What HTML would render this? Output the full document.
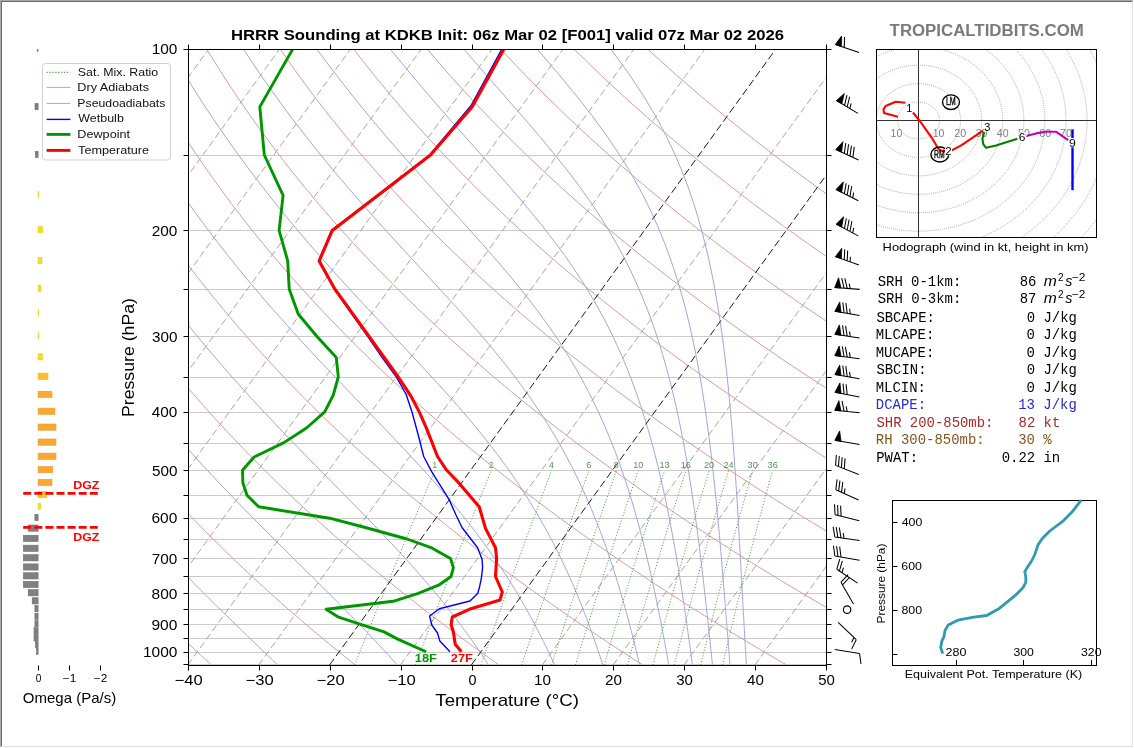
<!DOCTYPE html>
<html><head><meta charset="utf-8"><title>HRRR Sounding KDKB</title>
<style>
html,body{margin:0;padding:0;background:#fff;}
body{width:1134px;height:748px;overflow:hidden;}
svg{display:block;font-family:"Liberation Sans",sans-serif;}
</style></head><body>
<div style="will-change:transform;width:1134px;height:748px"><svg width="1134" height="748" viewBox="0 0 1134 748">
<rect x="0" y="0" width="1134" height="748" fill="#fff"/>
<defs><clipPath id="ax"><rect x="188.5" y="49.5" width="638" height="616"/></clipPath><clipPath id="hodo"><rect x="876.5" y="49.5" width="220" height="188"/></clipPath></defs>
<g clip-path="url(#ax)">
<line x1="188" x2="827" y1="49.5" y2="49.5" stroke="#cbcbcb" stroke-width="1"/>
<line x1="188" x2="827" y1="155.5" y2="155.5" stroke="#cbcbcb" stroke-width="1"/>
<line x1="188" x2="827" y1="230.5" y2="230.5" stroke="#cbcbcb" stroke-width="1"/>
<line x1="188" x2="827" y1="289.5" y2="289.5" stroke="#cbcbcb" stroke-width="1"/>
<line x1="188" x2="827" y1="336.5" y2="336.5" stroke="#cbcbcb" stroke-width="1"/>
<line x1="188" x2="827" y1="377.5" y2="377.5" stroke="#cbcbcb" stroke-width="1"/>
<line x1="188" x2="827" y1="412.5" y2="412.5" stroke="#cbcbcb" stroke-width="1"/>
<line x1="188" x2="827" y1="443.5" y2="443.5" stroke="#cbcbcb" stroke-width="1"/>
<line x1="188" x2="827" y1="470.5" y2="470.5" stroke="#cbcbcb" stroke-width="1"/>
<line x1="188" x2="827" y1="495.5" y2="495.5" stroke="#cbcbcb" stroke-width="1"/>
<line x1="188" x2="827" y1="518.5" y2="518.5" stroke="#cbcbcb" stroke-width="1"/>
<line x1="188" x2="827" y1="539.5" y2="539.5" stroke="#cbcbcb" stroke-width="1"/>
<line x1="188" x2="827" y1="558.5" y2="558.5" stroke="#cbcbcb" stroke-width="1"/>
<line x1="188" x2="827" y1="576.5" y2="576.5" stroke="#cbcbcb" stroke-width="1"/>
<line x1="188" x2="827" y1="593.5" y2="593.5" stroke="#cbcbcb" stroke-width="1"/>
<line x1="188" x2="827" y1="609.5" y2="609.5" stroke="#cbcbcb" stroke-width="1"/>
<line x1="188" x2="827" y1="624.5" y2="624.5" stroke="#cbcbcb" stroke-width="1"/>
<line x1="188" x2="827" y1="638.5" y2="638.5" stroke="#cbcbcb" stroke-width="1"/>
<line x1="188" x2="827" y1="652.5" y2="652.5" stroke="#cbcbcb" stroke-width="1"/>
<line x1="188" x2="827" y1="664.5" y2="664.5" stroke="#cbcbcb" stroke-width="1"/>
<line x1="-308.42" y1="664.98" x2="137.71" y2="49.2" stroke="#9c9c9c" stroke-width="0.9" stroke-dasharray="7 3.5"/>
<line x1="-237.53" y1="664.98" x2="208.6" y2="49.2" stroke="#9c9c9c" stroke-width="0.9" stroke-dasharray="7 3.5"/>
<line x1="-166.64" y1="664.98" x2="279.49" y2="49.2" stroke="#9c9c9c" stroke-width="0.9" stroke-dasharray="7 3.5"/>
<line x1="-95.76" y1="664.98" x2="350.37" y2="49.2" stroke="#9c9c9c" stroke-width="0.9" stroke-dasharray="7 3.5"/>
<line x1="-24.87" y1="664.98" x2="421.26" y2="49.2" stroke="#9c9c9c" stroke-width="0.9" stroke-dasharray="7 3.5"/>
<line x1="46.02" y1="664.98" x2="492.15" y2="49.2" stroke="#9c9c9c" stroke-width="0.9" stroke-dasharray="7 3.5"/>
<line x1="116.91" y1="664.98" x2="563.04" y2="49.2" stroke="#9c9c9c" stroke-width="0.9" stroke-dasharray="7 3.5"/>
<line x1="187.8" y1="664.98" x2="633.93" y2="49.2" stroke="#9c9c9c" stroke-width="0.9" stroke-dasharray="7 3.5"/>
<line x1="258.69" y1="664.98" x2="704.82" y2="49.2" stroke="#9c9c9c" stroke-width="0.9" stroke-dasharray="7 3.5"/>
<line x1="400.47" y1="664.98" x2="846.6" y2="49.2" stroke="#9c9c9c" stroke-width="0.9" stroke-dasharray="7 3.5"/>
<line x1="542.24" y1="664.98" x2="988.37" y2="49.2" stroke="#9c9c9c" stroke-width="0.9" stroke-dasharray="7 3.5"/>
<line x1="613.13" y1="664.98" x2="1059.26" y2="49.2" stroke="#9c9c9c" stroke-width="0.9" stroke-dasharray="7 3.5"/>
<line x1="684.02" y1="664.98" x2="1130.15" y2="49.2" stroke="#9c9c9c" stroke-width="0.9" stroke-dasharray="7 3.5"/>
<line x1="754.91" y1="664.98" x2="1201.04" y2="49.2" stroke="#9c9c9c" stroke-width="0.9" stroke-dasharray="7 3.5"/>
<line x1="825.8" y1="664.98" x2="1271.93" y2="49.2" stroke="#9c9c9c" stroke-width="0.9" stroke-dasharray="7 3.5"/>
<polyline fill="none" stroke="#dc9a9a" stroke-width="1" points="211.48,664.98 208.72,662.47 205.95,659.94 203.17,657.39 200.37,654.81 197.56,652.2 194.73,649.57 191.89,646.91 189.03,644.22 186.16,641.51 183.27,638.77 180.37,636 177.45,633.2 174.51,630.36 171.56,627.5 168.59,624.61 165.6,621.68 162.6,618.72 159.58,615.73 156.54,612.7 153.48,609.64 150.41,606.54 147.31,603.4 144.2,600.23 141.07,597.02 137.92,593.76 134.75,590.47 131.56,587.13 128.35,583.75 125.11,580.33 121.86,576.86 118.59,573.35 115.29,569.78 111.97,566.17 108.63,562.51 105.27,558.79 101.88,555.03 98.47,551.2 95.03,547.32 91.57,543.38 88.08,539.39 84.57,535.33 81.04,531.2 77.47,527.01 73.88,522.75 70.26,518.43 66.61,514.02 62.94,509.55 59.23,504.99 55.5,500.36 51.73,495.64 47.93,490.83 44.1,485.94 40.24,480.95 36.35,475.86 32.42,470.68 28.46,465.39 24.46,459.99 20.42,454.48 16.35,448.84 12.24,443.09 8.09,437.2 3.9,431.18 -0.33,425.02 -4.6,418.71 -8.92,412.24 -13.27,405.61 -17.68,398.81 -22.12,391.83 -26.62,384.65 -31.16,377.27 -35.75,369.68 -40.39,361.86 -45.09,353.81 -49.83,345.49 -54.63,336.9 -59.49,328.03 -64.4,318.84 -69.36,309.31 -74.39,299.43 -79.47,289.16 -84.62,278.47 -89.82,267.32 -95.08,255.68 -100.41,243.5 -105.79,230.72 -111.16,217.29 -116.58,203.13 -122.04,188.16 -127.55,172.28 -133.09,155.38 -138.65,137.32 -144.22,117.91 -149.77,96.95 -155.27,74.16 -160.67,49.2"/>
<polyline fill="none" stroke="#dc9a9a" stroke-width="1" points="355.24,664.98 352.09,662.47 348.93,659.94 345.75,657.39 342.55,654.81 339.33,652.2 336.1,649.57 332.85,646.91 329.58,644.22 326.29,641.51 322.99,638.77 319.66,636 316.32,633.2 312.95,630.36 309.57,627.5 306.17,624.61 302.74,621.68 299.3,618.72 295.83,615.73 292.34,612.7 288.83,609.64 285.3,606.54 281.75,603.4 278.17,600.23 274.57,597.02 270.95,593.76 267.3,590.47 263.63,587.13 259.93,583.75 256.21,580.33 252.46,576.86 248.69,573.35 244.89,569.78 241.06,566.17 237.2,562.51 233.32,558.79 229.41,555.03 225.47,551.2 221.5,547.32 217.49,543.38 213.46,539.39 209.39,535.33 205.3,531.2 201.17,527.01 197,522.75 192.8,518.43 188.57,514.02 184.3,509.55 180,504.99 175.65,500.36 171.27,495.64 166.85,490.83 162.39,485.94 157.88,480.95 153.34,475.86 148.75,470.68 144.12,465.39 139.44,459.99 134.72,454.48 129.94,448.84 125.12,443.09 120.25,437.2 115.33,431.18 110.35,425.02 105.32,418.71 100.24,412.24 95.09,405.61 89.89,398.81 84.63,391.83 79.3,384.65 73.91,377.27 68.45,369.68 62.93,361.86 57.33,353.81 51.66,345.49 45.92,336.9 40.09,328.03 34.19,318.84 28.21,309.31 22.14,299.43 15.98,289.16 9.73,278.47 3.39,267.32 -3.05,255.68 -9.59,243.5 -16.23,230.72 -22.9,217.29 -29.67,203.13 -36.54,188.16 -43.51,172.28 -50.59,155.38 -57.76,137.32 -65.02,117.91 -72.36,96.95 -79.76,74.16 -87.19,49.2"/>
<polyline fill="none" stroke="#dc9a9a" stroke-width="1" points="499.01,664.98 495.47,662.47 491.91,659.94 488.33,657.39 484.73,654.81 481.11,652.2 477.47,649.57 473.81,646.91 470.13,644.22 466.43,641.51 462.7,638.77 458.96,636 455.19,633.2 451.4,630.36 447.58,627.5 443.74,624.61 439.88,621.68 436,618.72 432.08,615.73 428.15,612.7 424.19,609.64 420.2,606.54 416.18,603.4 412.14,600.23 408.08,597.02 403.98,593.76 399.85,590.47 395.7,587.13 391.52,583.75 387.31,580.33 383.07,576.86 378.79,573.35 374.49,569.78 370.15,566.17 365.78,562.51 361.38,558.79 356.94,555.03 352.47,551.2 347.96,547.32 343.42,543.38 338.84,539.39 334.22,535.33 329.56,531.2 324.86,527.01 320.13,522.75 315.35,518.43 310.53,514.02 305.67,509.55 300.76,504.99 295.81,500.36 290.81,495.64 285.76,490.83 280.67,485.94 275.52,480.95 270.33,475.86 265.08,470.68 259.78,465.39 254.42,459.99 249.01,454.48 243.54,448.84 238.01,443.09 232.41,437.2 226.76,431.18 221.04,425.02 215.25,418.71 209.39,412.24 203.46,405.61 197.46,398.81 191.38,391.83 185.22,384.65 178.98,377.27 172.66,369.68 166.25,361.86 159.75,353.81 153.16,345.49 146.47,336.9 139.67,328.03 132.78,318.84 125.78,309.31 118.66,299.43 111.43,289.16 104.07,278.47 96.59,267.32 88.98,255.68 81.23,243.5 73.33,230.72 65.36,217.29 57.24,203.13 48.96,188.16 40.52,172.28 31.91,155.38 23.13,137.32 14.18,117.91 5.05,96.95 -4.25,74.16 -13.7,49.2"/>
<polyline fill="none" stroke="#dc9a9a" stroke-width="1" points="642.77,664.98 638.84,662.47 634.89,659.94 630.91,657.39 626.91,654.81 622.89,652.2 618.85,649.57 614.78,646.91 610.68,644.22 606.56,641.51 602.42,638.77 598.25,636 594.06,633.2 589.84,630.36 585.6,627.5 581.32,624.61 577.02,621.68 572.69,618.72 568.34,615.73 563.95,612.7 559.54,609.64 555.09,606.54 550.62,603.4 546.11,600.23 541.58,597.02 537.01,593.76 532.41,590.47 527.77,587.13 523.11,583.75 518.4,580.33 513.67,576.86 508.89,573.35 504.09,569.78 499.24,566.17 494.36,562.51 489.43,558.79 484.47,555.03 479.47,551.2 474.42,547.32 469.34,543.38 464.21,539.39 459.04,535.33 453.82,531.2 448.56,527.01 443.25,522.75 437.89,518.43 432.49,514.02 427.03,509.55 421.52,504.99 415.96,500.36 410.35,495.64 404.68,490.83 398.95,485.94 393.16,480.95 387.32,475.86 381.41,470.68 375.44,465.39 369.41,459.99 363.3,454.48 357.13,448.84 350.89,443.09 344.58,437.2 338.19,431.18 331.72,425.02 325.17,418.71 318.54,412.24 311.83,405.61 305.02,398.81 298.13,391.83 291.14,384.65 284.05,377.27 276.86,369.68 269.57,361.86 262.17,353.81 254.65,345.49 247.01,336.9 239.26,328.03 231.37,318.84 223.35,309.31 215.19,299.43 206.88,289.16 198.42,278.47 189.8,267.32 181.01,255.68 172.04,243.5 162.89,230.72 153.62,217.29 144.15,203.13 134.46,188.16 124.56,172.28 114.41,155.38 104.03,137.32 93.38,117.91 82.46,96.95 71.27,74.16 59.79,49.2"/>
<polyline fill="none" stroke="#dc9a9a" stroke-width="1" points="786.54,664.98 782.21,662.47 777.87,659.94 773.49,657.39 769.09,654.81 764.67,652.2 760.22,649.57 755.74,646.91 751.23,644.22 746.7,641.51 742.14,638.77 737.55,636 732.93,633.2 728.29,630.36 723.61,627.5 718.9,624.61 714.16,621.68 709.39,618.72 704.59,615.73 699.76,612.7 694.89,609.64 689.99,606.54 685.05,603.4 680.09,600.23 675.08,597.02 670.04,593.76 664.96,590.47 659.85,587.13 654.69,583.75 649.5,580.33 644.27,576.86 639,573.35 633.68,569.78 628.33,566.17 622.93,562.51 617.49,558.79 612,555.03 606.47,551.2 600.89,547.32 595.26,543.38 589.59,539.39 583.86,535.33 578.08,531.2 572.26,527.01 566.37,522.75 560.44,518.43 554.44,514.02 548.39,509.55 542.29,504.99 536.12,500.36 529.88,495.64 523.59,490.83 517.23,485.94 510.8,480.95 504.31,475.86 497.74,470.68 491.1,465.39 484.39,459.99 477.6,454.48 470.73,448.84 463.78,443.09 456.74,437.2 449.62,431.18 442.4,425.02 435.1,418.71 427.7,412.24 420.2,405.61 412.59,398.81 404.88,391.83 397.06,384.65 389.13,377.27 381.07,369.68 372.89,361.86 364.59,353.81 356.14,345.49 347.56,336.9 338.84,328.03 329.96,318.84 320.92,309.31 311.71,299.43 302.33,289.16 292.76,278.47 283,267.32 273.04,255.68 262.86,243.5 252.46,230.72 241.88,217.29 231.06,203.13 219.97,188.16 208.59,172.28 196.92,155.38 184.92,137.32 172.58,117.91 159.87,96.95 146.78,74.16 133.27,49.2"/>
<polyline fill="none" stroke="#dc9a9a" stroke-width="1" points="930.3,664.98 925.59,662.47 920.85,659.94 916.07,657.39 911.27,654.81 906.45,652.2 901.59,649.57 896.7,646.91 891.78,644.22 886.84,641.51 881.86,638.77 876.85,636 871.8,633.2 866.73,630.36 861.62,627.5 856.48,624.61 851.3,621.68 846.09,618.72 840.84,615.73 835.56,612.7 830.24,609.64 824.88,606.54 819.49,603.4 814.06,600.23 808.58,597.02 803.07,593.76 797.52,590.47 791.92,587.13 786.28,583.75 780.6,580.33 774.87,576.86 769.1,573.35 763.28,569.78 757.42,566.17 751.51,562.51 745.54,558.79 739.53,555.03 733.47,551.2 727.35,547.32 721.19,543.38 714.96,539.39 708.68,535.33 702.35,531.2 695.95,527.01 689.5,522.75 682.98,518.43 676.4,514.02 669.76,509.55 663.05,504.99 656.27,500.36 649.42,495.64 642.5,490.83 635.51,485.94 628.44,480.95 621.3,475.86 614.07,470.68 606.76,465.39 599.37,459.99 591.89,454.48 584.32,448.84 576.66,443.09 568.9,437.2 561.05,431.18 553.09,425.02 545.02,418.71 536.85,412.24 528.56,405.61 520.16,398.81 511.63,391.83 502.98,384.65 494.2,377.27 485.28,369.68 476.21,361.86 467,353.81 457.64,345.49 448.11,336.9 438.42,328.03 428.55,318.84 418.49,309.31 408.24,299.43 397.78,289.16 387.11,278.47 376.21,267.32 365.07,255.68 353.68,243.5 342.02,230.72 330.14,217.29 317.97,203.13 305.47,188.16 292.63,172.28 279.42,155.38 265.81,137.32 251.78,117.91 237.29,96.95 222.29,74.16 206.76,49.2"/>
<polyline fill="none" stroke="#dc9a9a" stroke-width="1" points="1074.07,664.98 1068.96,662.47 1063.82,659.94 1058.66,657.39 1053.46,654.81 1048.22,652.2 1042.96,649.57 1037.66,646.91 1032.33,644.22 1026.97,641.51 1021.57,638.77 1016.14,636 1010.68,633.2 1005.17,630.36 999.63,627.5 994.06,624.61 988.44,621.68 982.79,618.72 977.1,615.73 971.37,612.7 965.59,609.64 959.78,606.54 953.93,603.4 948.03,600.23 942.09,597.02 936.1,593.76 930.07,590.47 923.99,587.13 917.87,583.75 911.7,580.33 905.47,576.86 899.2,573.35 892.88,569.78 886.51,566.17 880.08,562.51 873.6,558.79 867.06,555.03 860.47,551.2 853.82,547.32 847.11,543.38 840.34,539.39 833.51,535.33 826.61,531.2 819.65,527.01 812.62,522.75 805.53,518.43 798.36,514.02 791.12,509.55 783.81,504.99 776.43,500.36 768.96,495.64 761.42,490.83 753.79,485.94 746.08,480.95 738.29,475.86 730.4,470.68 722.43,465.39 714.36,459.99 706.19,454.48 697.92,448.84 689.55,443.09 681.07,437.2 672.48,431.18 663.77,425.02 654.95,418.71 646,412.24 636.93,405.61 627.73,398.81 618.38,391.83 608.9,384.65 599.27,377.27 589.48,369.68 579.54,361.86 569.42,353.81 559.13,345.49 548.66,336.9 538,328.03 527.13,318.84 516.06,309.31 504.76,299.43 493.23,289.16 481.45,278.47 469.42,267.32 457.1,255.68 444.5,243.5 431.58,230.72 418.4,217.29 404.88,203.13 390.97,188.16 376.66,172.28 361.92,155.38 346.71,137.32 330.98,117.91 314.7,96.95 297.81,74.16 280.25,49.2"/>
<polyline fill="none" stroke="#dc9a9a" stroke-width="1" points="1217.84,664.98 1212.34,662.47 1206.8,659.94 1201.24,657.39 1195.64,654.81 1190,652.2 1184.33,649.57 1178.63,646.91 1172.89,644.22 1167.11,641.51 1161.29,638.77 1155.44,636 1149.55,633.2 1143.62,630.36 1137.65,627.5 1131.63,624.61 1125.58,621.68 1119.49,618.72 1113.35,615.73 1107.17,612.7 1100.95,609.64 1094.68,606.54 1088.36,603.4 1082,600.23 1075.59,597.02 1069.13,593.76 1062.62,590.47 1056.06,587.13 1049.45,583.75 1042.79,580.33 1036.08,576.86 1029.31,573.35 1022.48,569.78 1015.6,566.17 1008.66,562.51 1001.66,558.79 994.59,555.03 987.47,551.2 980.28,547.32 973.03,543.38 965.71,539.39 958.33,535.33 950.87,531.2 943.35,527.01 935.74,522.75 928.07,518.43 920.32,514.02 912.49,509.55 904.58,504.99 896.58,500.36 888.5,495.64 880.33,490.83 872.07,485.94 863.72,480.95 855.28,475.86 846.73,470.68 838.09,465.39 829.34,459.99 820.48,454.48 811.51,448.84 802.43,443.09 793.23,437.2 783.91,431.18 774.46,425.02 764.87,418.71 755.16,412.24 745.3,405.61 735.29,398.81 725.14,391.83 714.82,384.65 704.34,377.27 693.69,369.68 682.86,361.86 671.84,353.81 660.63,345.49 649.21,336.9 637.58,328.03 625.72,318.84 613.63,309.31 601.29,299.43 588.68,289.16 575.8,278.47 562.62,267.32 549.13,255.68 535.31,243.5 521.14,230.72 506.66,217.29 491.78,203.13 476.47,188.16 460.7,172.28 444.42,155.38 427.6,137.32 410.18,117.91 392.11,96.95 373.32,74.16 353.73,49.2"/>
<polyline fill="none" stroke="#dc9a9a" stroke-width="1" points="1361.6,664.98 1355.71,662.47 1349.78,659.94 1343.82,657.39 1337.82,654.81 1331.78,652.2 1325.7,649.57 1319.59,646.91 1313.44,644.22 1307.24,641.51 1301.01,638.77 1294.73,636 1288.42,633.2 1282.06,630.36 1275.66,627.5 1269.21,624.61 1262.72,621.68 1256.19,618.72 1249.6,615.73 1242.97,612.7 1236.3,609.64 1229.57,606.54 1222.8,603.4 1215.97,600.23 1209.09,597.02 1202.16,593.76 1195.18,590.47 1188.14,587.13 1181.04,583.75 1173.89,580.33 1166.68,576.86 1159.41,573.35 1152.08,569.78 1144.69,566.17 1137.23,562.51 1129.71,558.79 1122.13,555.03 1114.47,551.2 1106.75,547.32 1098.96,543.38 1091.09,539.39 1083.15,535.33 1075.13,531.2 1067.04,527.01 1058.87,522.75 1050.61,518.43 1042.28,514.02 1033.85,509.55 1025.34,504.99 1016.74,500.36 1008.04,495.64 999.25,490.83 990.36,485.94 981.36,480.95 972.27,475.86 963.06,470.68 953.75,465.39 944.32,459.99 934.78,454.48 925.11,448.84 915.32,443.09 905.39,437.2 895.34,431.18 885.14,425.02 874.8,418.71 864.31,412.24 853.66,405.61 842.86,398.81 831.89,391.83 820.74,384.65 809.41,377.27 797.89,369.68 786.18,361.86 774.26,353.81 762.12,345.49 749.76,336.9 737.16,328.03 724.31,318.84 711.2,309.31 697.81,299.43 684.13,289.16 670.15,278.47 655.83,267.32 641.17,255.68 626.13,243.5 610.7,230.72 594.92,217.29 578.69,203.13 561.98,188.16 544.74,172.28 526.93,155.38 508.49,137.32 489.38,117.91 469.52,96.95 448.83,74.16 427.22,49.2"/>
<polyline fill="none" stroke="#dc9a9a" stroke-width="1" points="1505.37,664.98 1499.08,662.47 1492.76,659.94 1486.4,657.39 1480,654.81 1473.56,652.2 1467.08,649.57 1460.55,646.91 1453.99,644.22 1447.38,641.51 1440.73,638.77 1434.03,636 1427.29,633.2 1420.5,630.36 1413.67,627.5 1406.79,624.61 1399.86,621.68 1392.88,618.72 1385.86,615.73 1378.78,612.7 1371.65,609.64 1364.47,606.54 1357.23,603.4 1349.94,600.23 1342.59,597.02 1335.19,593.76 1327.73,590.47 1320.21,587.13 1312.63,583.75 1304.99,580.33 1297.28,576.86 1289.51,573.35 1281.68,569.78 1273.78,566.17 1265.81,562.51 1257.77,558.79 1249.66,555.03 1241.47,551.2 1233.21,547.32 1224.88,543.38 1216.47,539.39 1207.97,535.33 1199.4,531.2 1190.74,527.01 1181.99,522.75 1173.16,518.43 1164.23,514.02 1155.22,509.55 1146.1,504.99 1136.89,500.36 1127.58,495.64 1118.16,490.83 1108.64,485.94 1099,480.95 1089.26,475.86 1079.4,470.68 1069.41,465.39 1059.31,459.99 1049.07,454.48 1038.7,448.84 1028.2,443.09 1017.56,437.2 1006.76,431.18 995.82,425.02 984.72,418.71 973.46,412.24 962.03,405.61 950.43,398.81 938.64,391.83 926.66,384.65 914.48,377.27 902.1,369.68 889.5,361.86 876.68,353.81 863.62,345.49 850.31,336.9 836.74,328.03 822.9,318.84 808.77,309.31 794.34,299.43 779.58,289.16 764.49,278.47 749.04,267.32 733.2,255.68 716.95,243.5 700.26,230.72 683.18,217.29 665.6,203.13 647.48,188.16 628.77,172.28 609.43,155.38 589.39,137.32 568.58,117.91 546.93,96.95 524.34,74.16 500.71,49.2"/>
<polyline fill="none" stroke="#dc9a9a" stroke-width="1" points="1649.13,664.98 1642.46,662.47 1635.74,659.94 1628.98,657.39 1622.18,654.81 1615.33,652.2 1608.45,649.57 1601.51,646.91 1594.54,644.22 1587.51,641.51 1580.44,638.77 1573.33,636 1566.16,633.2 1558.95,630.36 1551.68,627.5 1544.37,624.61 1537,621.68 1529.58,618.72 1522.11,615.73 1514.58,612.7 1507,609.64 1499.36,606.54 1491.67,603.4 1483.91,600.23 1476.1,597.02 1468.22,593.76 1460.28,590.47 1452.28,587.13 1444.21,583.75 1436.08,580.33 1427.88,576.86 1419.61,573.35 1411.28,569.78 1402.87,566.17 1394.38,562.51 1385.82,558.79 1377.19,555.03 1368.47,551.2 1359.68,547.32 1350.8,543.38 1341.84,539.39 1332.79,535.33 1323.66,531.2 1314.43,527.01 1305.12,522.75 1295.7,518.43 1286.19,514.02 1276.58,509.55 1266.86,504.99 1257.04,500.36 1247.12,495.64 1237.07,490.83 1226.92,485.94 1216.64,480.95 1206.25,475.86 1195.73,470.68 1185.07,465.39 1174.29,459.99 1163.36,454.48 1152.3,448.84 1141.08,443.09 1129.72,437.2 1118.19,431.18 1106.51,425.02 1094.65,418.71 1082.62,412.24 1070.4,405.61 1057.99,398.81 1045.39,391.83 1032.58,384.65 1019.55,377.27 1006.31,369.68 992.82,361.86 979.1,353.81 965.11,345.49 950.86,336.9 936.32,328.03 921.49,318.84 906.34,309.31 890.86,299.43 875.04,289.16 858.84,278.47 842.24,267.32 825.23,255.68 807.77,243.5 789.83,230.72 771.44,217.29 752.51,203.13 732.98,188.16 712.81,172.28 691.93,155.38 670.28,137.32 647.78,117.91 624.34,96.95 599.86,74.16 574.19,49.2"/>
<polyline fill="none" stroke="#dc9a9a" stroke-width="1" points="1792.9,664.98 1785.83,662.47 1778.72,659.94 1771.56,657.39 1764.36,654.81 1757.11,652.2 1749.82,649.57 1742.48,646.91 1735.09,644.22 1727.65,641.51 1720.16,638.77 1712.62,636 1705.03,633.2 1697.39,630.36 1689.7,627.5 1681.95,624.61 1674.14,621.68 1666.28,618.72 1658.36,615.73 1650.39,612.7 1642.35,609.64 1634.26,606.54 1626.1,603.4 1617.88,600.23 1609.6,597.02 1601.25,593.76 1592.84,590.47 1584.35,587.13 1575.8,583.75 1567.18,580.33 1558.49,576.86 1549.72,573.35 1540.87,569.78 1531.96,566.17 1522.96,562.51 1513.88,558.79 1504.72,555.03 1495.47,551.2 1486.14,547.32 1476.73,543.38 1467.22,539.39 1457.62,535.33 1447.92,531.2 1438.13,527.01 1428.24,522.75 1418.25,518.43 1408.15,514.02 1397.94,509.55 1387.63,504.99 1377.2,500.36 1366.65,495.64 1355.99,490.83 1345.2,485.94 1334.28,480.95 1323.24,475.86 1312.06,470.68 1300.74,465.39 1289.27,459.99 1277.66,454.48 1265.89,448.84 1253.97,443.09 1241.88,437.2 1229.62,431.18 1217.19,425.02 1204.57,418.71 1191.77,412.24 1178.77,405.61 1165.56,398.81 1152.14,391.83 1138.5,384.65 1124.63,377.27 1110.51,369.68 1096.15,361.86 1081.51,353.81 1066.61,345.49 1051.41,336.9 1035.9,328.03 1020.08,318.84 1003.91,309.31 987.39,299.43 970.49,289.16 953.18,278.47 935.45,267.32 917.26,255.68 898.58,243.5 879.39,230.72 859.7,217.29 839.42,203.13 818.48,188.16 796.84,172.28 774.43,155.38 751.17,137.32 726.98,117.91 701.76,96.95 675.37,74.16 647.68,49.2"/>
<polyline fill="none" stroke="#a4a4de" stroke-width="1" points="-124.01,49.2 -117.43,74.16 -110.84,96.95 -104.25,117.91 -97.71,137.32 -91.22,155.38 -84.8,172.28 -78.46,188.16 -72.19,203.13 -66,217.29 -59.89,230.72 -53.86,243.5 -47.92,255.68 -42.05,267.32 -36.27,278.47 -30.56,289.16 -24.92,299.43 -19.36,309.31 -13.87,318.84 -8.45,328.03 -3.1,336.9 2.18,345.49 7.4,353.81 12.56,361.86 17.65,369.68 22.68,377.27 27.66,384.65 32.58,391.83 37.44,398.81 42.25,405.61 47.01,412.24 51.72,418.71 56.38,425.02 60.98,431.18 65.54,437.2 70.06,443.09 74.53,448.84 78.95,454.48 83.33,459.99 87.67,465.39 91.96,470.68 96.22,475.86 100.43,480.95 104.61,485.94 108.75,490.83 112.85,495.64 116.91,500.36 120.93,504.99 124.92,509.55 128.87,514.02 132.79,518.43 136.67,522.75 140.52,527.01 144.34,531.2 148.12,535.33 151.87,539.39 155.59,543.38 159.27,547.32 162.93,551.2 166.55,555.03 170.14,558.79 173.7,562.51 177.23,566.17 180.73,569.78 184.19,573.35 187.63,576.86 191.04,580.33 194.42,583.75 197.77,587.13 201.09,590.47 204.38,593.76 207.65,597.02 210.88,600.23 214.09,603.4 217.26,606.54 220.41,609.64 223.53,612.7 226.63,615.73 229.69,618.72 232.73,621.68 235.74,624.61 238.72,627.5 241.67,630.36 244.6,633.2 247.5,636 250.37,638.77 253.22,641.51 256.03,644.22 258.82,646.91 261.59,649.57 264.33,652.2 267.04,654.81 269.72,657.39 272.38,659.94 275.01,662.47 277.61,664.98"/>
<polyline fill="none" stroke="#a4a4de" stroke-width="1" points="-50.53,49.2 -41.92,74.16 -33.42,96.95 -25.05,117.91 -16.82,137.32 -8.72,155.38 -0.77,172.28 7.05,188.16 14.72,203.13 22.26,217.29 29.67,230.72 36.95,243.5 44.11,255.68 51.15,267.32 58.08,278.47 64.89,289.16 71.6,299.43 78.2,309.31 84.71,318.84 91.12,328.03 97.43,336.9 103.66,345.49 109.79,353.81 115.85,361.86 121.82,369.68 127.71,377.27 133.52,384.65 139.26,391.83 144.92,398.81 150.51,405.61 156.03,412.24 161.49,418.71 166.87,425.02 172.19,431.18 177.45,437.2 182.64,443.09 187.77,448.84 192.84,454.48 197.85,459.99 202.8,465.39 207.69,470.68 212.53,475.86 217.3,480.95 222.02,485.94 226.69,490.83 231.3,495.64 235.85,500.36 240.35,504.99 244.79,509.55 249.18,514.02 253.51,518.43 257.79,522.75 262.02,527.01 266.2,531.2 270.32,535.33 274.39,539.39 278.4,543.38 282.37,547.32 286.28,551.2 290.14,555.03 293.95,558.79 297.7,562.51 301.41,566.17 305.06,569.78 308.67,573.35 312.22,576.86 315.72,580.33 319.18,583.75 322.58,587.13 325.93,590.47 329.24,593.76 332.49,597.02 335.7,600.23 338.86,603.4 341.97,606.54 345.03,609.64 348.05,612.7 351.02,615.73 353.95,618.72 356.83,621.68 359.67,624.61 362.46,627.5 365.21,630.36 367.91,633.2 370.58,636 373.2,638.77 375.78,641.51 378.32,644.22 380.81,646.91 383.27,649.57 385.69,652.2 388.08,654.81 390.42,657.39 392.73,659.94 395,662.47 397.23,664.98"/>
<polyline fill="none" stroke="#a4a4de" stroke-width="1" points="22.96,49.2 33.59,74.16 43.99,96.95 54.15,117.91 64.08,137.32 73.78,155.38 83.27,172.28 92.55,188.16 101.63,203.13 110.52,217.29 119.23,230.72 127.76,243.5 136.13,255.68 144.34,267.32 152.4,278.47 160.31,289.16 168.08,299.43 175.71,309.31 183.22,318.84 190.59,328.03 197.85,336.9 204.98,345.49 212,353.81 218.91,361.86 225.7,369.68 232.39,377.27 238.97,384.65 245.44,391.83 251.81,398.81 258.09,405.61 264.26,412.24 270.33,418.71 276.3,425.02 282.17,431.18 287.95,437.2 293.63,443.09 299.22,448.84 304.71,454.48 310.1,459.99 315.4,465.39 320.6,470.68 325.71,475.86 330.72,480.95 335.64,485.94 340.47,490.83 345.21,495.64 349.85,500.36 354.4,504.99 358.86,509.55 363.23,514.02 367.5,518.43 371.69,522.75 375.8,527.01 379.81,531.2 383.74,535.33 387.59,539.39 391.35,543.38 395.03,547.32 398.63,551.2 402.15,555.03 405.6,558.79 408.96,562.51 412.26,566.17 415.47,569.78 418.62,573.35 421.7,576.86 424.7,580.33 427.65,583.75 430.52,587.13 433.33,590.47 436.08,593.76 438.77,597.02 441.4,600.23 443.97,603.4 446.48,606.54 448.94,609.64 451.34,612.7 453.7,615.73 456,618.72 458.26,621.68 460.46,624.61 462.62,627.5 464.73,630.36 466.81,633.2 468.83,636 470.82,638.77 472.76,641.51 474.67,644.22 476.54,646.91 478.37,649.57 480.16,652.2 481.92,654.81 483.65,657.39 485.34,659.94 487,662.47 488.63,664.98"/>
<polyline fill="none" stroke="#a4a4de" stroke-width="1" points="96.45,49.2 109.1,74.16 121.4,96.95 133.35,117.91 144.97,137.32 156.28,155.38 167.3,172.28 178.04,188.16 188.52,203.13 198.75,217.29 208.74,230.72 218.51,243.5 228.06,255.68 237.41,267.32 246.56,278.47 255.51,289.16 264.28,299.43 272.86,309.31 281.27,318.84 289.5,328.03 297.55,336.9 305.44,345.49 313.16,353.81 320.7,361.86 328.09,369.68 335.3,377.27 342.35,384.65 349.23,391.83 355.95,398.81 362.51,405.61 368.9,412.24 375.12,418.71 381.19,425.02 387.09,431.18 392.83,437.2 398.42,443.09 403.84,448.84 409.12,454.48 414.24,459.99 419.21,465.39 424.03,470.68 428.71,475.86 433.25,480.95 437.65,485.94 441.92,490.83 446.06,495.64 450.07,500.36 453.95,504.99 457.72,509.55 461.37,514.02 464.91,518.43 468.35,522.75 471.67,527.01 474.9,531.2 478.03,535.33 481.07,539.39 484.01,543.38 486.87,547.32 489.65,551.2 492.34,555.03 494.96,558.79 497.5,562.51 499.97,566.17 502.37,569.78 504.71,573.35 506.98,576.86 509.19,580.33 511.34,583.75 513.43,587.13 515.47,590.47 517.46,593.76 519.39,597.02 521.28,600.23 523.12,603.4 524.91,606.54 526.66,609.64 528.37,612.7 530.04,615.73 531.67,618.72 533.26,621.68 534.81,624.61 536.33,627.5 537.82,630.36 539.27,633.2 540.69,636 542.08,638.77 543.44,641.51 544.77,644.22 546.08,646.91 547.36,649.57 548.61,652.2 549.84,654.81 551.04,657.39 552.22,659.94 553.38,662.47 554.52,664.98"/>
<polyline fill="none" stroke="#a4a4de" stroke-width="1" points="169.93,49.2 184.62,74.16 198.81,96.95 212.54,117.91 225.84,137.32 238.75,155.38 251.27,172.28 263.45,188.16 275.28,203.13 286.8,217.29 298,230.72 308.9,243.5 319.51,255.68 329.84,267.32 339.88,278.47 349.64,289.16 359.12,299.43 368.33,309.31 377.26,318.84 385.91,328.03 394.28,336.9 402.38,345.49 410.2,353.81 417.75,361.86 425.03,369.68 432.04,377.27 438.78,384.65 445.27,391.83 451.5,398.81 457.49,405.61 463.23,412.24 468.74,418.71 474.03,425.02 479.09,431.18 483.95,437.2 488.61,443.09 493.08,448.84 497.36,454.48 501.47,459.99 505.41,465.39 509.19,470.68 512.82,475.86 516.31,480.95 519.66,485.94 522.88,490.83 525.97,495.64 528.95,500.36 531.82,504.99 534.58,509.55 537.24,514.02 539.8,518.43 542.28,522.75 544.67,527.01 546.98,531.2 549.21,535.33 551.36,539.39 553.45,543.38 555.46,547.32 557.42,551.2 559.31,555.03 561.15,558.79 562.93,562.51 564.66,566.17 566.33,569.78 567.96,573.35 569.55,576.86 571.09,580.33 572.58,583.75 574.04,587.13 575.46,590.47 576.84,593.76 578.19,597.02 579.5,600.23 580.78,603.4 582.03,606.54 583.25,609.64 584.44,612.7 585.61,615.73 586.74,618.72 587.85,621.68 588.94,624.61 590,627.5 591.04,630.36 592.06,633.2 593.06,636 594.03,638.77 594.99,641.51 595.93,644.22 596.85,646.91 597.75,649.57 598.63,652.2 599.5,654.81 600.35,657.39 601.19,659.94 602.01,662.47 602.82,664.98"/>
<polyline fill="none" stroke="#a4a4de" stroke-width="1" points="243.42,49.2 260.12,74.16 276.19,96.95 291.67,117.91 306.62,137.32 321.05,155.38 334.98,172.28 348.45,188.16 361.46,203.13 374.01,217.29 386.11,230.72 397.77,243.5 408.97,255.68 419.73,267.32 430.04,278.47 439.89,289.16 449.3,299.43 458.27,309.31 466.79,318.84 474.89,328.03 482.58,336.9 489.86,345.49 496.75,353.81 503.27,361.86 509.44,369.68 515.28,377.27 520.79,384.65 526.01,391.83 530.95,398.81 535.62,405.61 540.05,412.24 544.24,418.71 548.22,425.02 551.99,431.18 555.58,437.2 558.99,443.09 562.23,448.84 565.33,454.48 568.27,459.99 571.08,465.39 573.77,470.68 576.34,475.86 578.8,480.95 581.15,485.94 583.4,490.83 585.57,495.64 587.65,500.36 589.65,504.99 591.57,509.55 593.42,514.02 595.2,518.43 596.92,522.75 598.58,527.01 600.18,531.2 601.73,535.33 603.22,539.39 604.67,543.38 606.08,547.32 607.43,551.2 608.75,555.03 610.03,558.79 611.27,562.51 612.48,566.17 613.65,569.78 614.79,573.35 615.89,576.86 616.97,580.33 618.02,583.75 619.05,587.13 620.04,590.47 621.02,593.76 621.97,597.02 622.89,600.23 623.8,603.4 624.68,606.54 625.55,609.64 626.39,612.7 627.22,615.73 628.03,618.72 628.82,621.68 629.59,624.61 630.35,627.5 631.1,630.36 631.83,633.2 632.55,636 633.25,638.77 633.94,641.51 634.61,644.22 635.28,646.91 635.93,649.57 636.57,652.2 637.2,654.81 637.82,657.39 638.43,659.94 639.03,662.47 639.62,664.98"/>
<polyline fill="none" stroke="#a4a4de" stroke-width="1" points="316.91,49.2 335.58,74.16 353.44,96.95 370.56,117.91 386.95,137.32 402.63,155.38 417.6,172.28 431.88,188.16 445.44,203.13 458.29,217.29 470.43,230.72 481.86,243.5 492.58,255.68 502.62,267.32 511.99,278.47 520.72,289.16 528.85,299.43 536.42,309.31 543.45,318.84 549.98,328.03 556.06,336.9 561.71,345.49 566.98,353.81 571.89,361.86 576.48,369.68 580.77,377.27 584.78,384.65 588.55,391.83 592.08,398.81 595.4,405.61 598.53,412.24 601.48,418.71 604.27,425.02 606.91,431.18 609.41,437.2 611.78,443.09 614.03,448.84 616.18,454.48 618.22,459.99 620.16,465.39 622.02,470.68 623.8,475.86 625.5,480.95 627.13,485.94 628.69,490.83 630.19,495.64 631.63,500.36 633.01,504.99 634.35,509.55 635.64,514.02 636.88,518.43 638.07,522.75 639.23,527.01 640.35,531.2 641.43,535.33 642.48,539.39 643.5,543.38 644.48,547.32 645.44,551.2 646.37,555.03 647.27,558.79 648.15,562.51 649,566.17 649.83,569.78 650.64,573.35 651.43,576.86 652.2,580.33 652.95,583.75 653.68,587.13 654.39,590.47 655.09,593.76 655.77,597.02 656.44,600.23 657.09,603.4 657.73,606.54 658.36,609.64 658.97,612.7 659.57,615.73 660.16,618.72 660.74,621.68 661.3,624.61 661.86,627.5 662.4,630.36 662.94,633.2 663.47,636 663.98,638.77 664.49,641.51 664.99,644.22 665.48,646.91 665.97,649.57 666.44,652.2 666.91,654.81 667.37,657.39 667.83,659.94 668.27,662.47 668.72,664.98"/>
<polyline fill="none" stroke="#a4a4de" stroke-width="1" points="390.39,49.2 410.85,74.16 430.21,96.95 448.51,117.91 465.72,137.32 481.84,155.38 496.85,172.28 510.76,188.16 523.58,203.13 535.34,217.29 546.09,230.72 555.9,243.5 564.84,255.68 572.97,267.32 580.38,278.47 587.12,289.16 593.28,299.43 598.91,309.31 604.07,318.84 608.81,328.03 613.17,336.9 617.19,345.49 620.91,353.81 624.35,361.86 627.56,369.68 630.54,377.27 633.32,384.65 635.92,391.83 638.36,398.81 640.65,405.61 642.81,412.24 644.84,418.71 646.76,425.02 648.57,431.18 650.29,437.2 651.92,443.09 653.48,448.84 654.95,454.48 656.36,459.99 657.71,465.39 658.99,470.68 660.22,475.86 661.4,480.95 662.53,485.94 663.61,490.83 664.66,495.64 665.66,500.36 666.63,504.99 667.56,509.55 668.46,514.02 669.33,518.43 670.18,522.75 670.99,527.01 671.78,531.2 672.54,535.33 673.28,539.39 674,543.38 674.7,547.32 675.38,551.2 676.05,555.03 676.69,558.79 677.32,562.51 677.93,566.17 678.52,569.78 679.11,573.35 679.67,576.86 680.23,580.33 680.77,583.75 681.3,587.13 681.82,590.47 682.33,593.76 682.83,597.02 683.31,600.23 683.79,603.4 684.26,606.54 684.72,609.64 685.17,612.7 685.61,615.73 686.05,618.72 686.47,621.68 686.89,624.61 687.31,627.5 687.71,630.36 688.11,633.2 688.51,636 688.89,638.77 689.27,641.51 689.65,644.22 690.02,646.91 690.38,649.57 690.74,652.2 691.1,654.81 691.45,657.39 691.79,659.94 692.13,662.47 692.47,664.98"/>
<polyline fill="none" stroke="#a4a4de" stroke-width="1" points="463.88,49.2 485.51,74.16 505.49,96.95 523.8,117.91 540.42,137.32 555.39,155.38 568.78,172.28 580.71,188.16 591.3,203.13 600.69,217.29 609.03,230.72 616.44,243.5 623.05,255.68 628.97,267.32 634.27,278.47 639.05,289.16 643.38,299.43 647.3,309.31 650.87,318.84 654.13,328.03 657.13,336.9 659.88,345.49 662.42,353.81 664.77,361.86 666.95,369.68 668.99,377.27 670.88,384.65 672.65,391.83 674.31,398.81 675.87,405.61 677.34,412.24 678.73,418.71 680.03,425.02 681.27,431.18 682.45,437.2 683.57,443.09 684.63,448.84 685.64,454.48 686.61,459.99 687.53,465.39 688.42,470.68 689.27,475.86 690.08,480.95 690.86,485.94 691.61,490.83 692.34,495.64 693.04,500.36 693.71,504.99 694.36,509.55 694.99,514.02 695.6,518.43 696.19,522.75 696.76,527.01 697.32,531.2 697.86,535.33 698.38,539.39 698.89,543.38 699.39,547.32 699.87,551.2 700.34,555.03 700.8,558.79 701.25,562.51 701.69,566.17 702.12,569.78 702.54,573.35 702.95,576.86 703.35,580.33 703.74,583.75 704.13,587.13 704.5,590.47 704.87,593.76 705.24,597.02 705.6,600.23 705.95,603.4 706.29,606.54 706.63,609.64 706.96,612.7 707.29,615.73 707.61,618.72 707.93,621.68 708.24,624.61 708.55,627.5 708.85,630.36 709.15,633.2 709.45,636 709.74,638.77 710.03,641.51 710.31,644.22 710.59,646.91 710.87,649.57 711.14,652.2 711.41,654.81 711.68,657.39 711.95,659.94 712.21,662.47 712.47,664.98"/>
<polyline fill="none" stroke="#a4a4de" stroke-width="1" points="537.37,49.2 558.65,74.16 577.39,96.95 593.71,117.91 607.81,137.32 619.92,155.38 630.33,172.28 639.29,188.16 647.03,203.13 653.75,217.29 659.62,230.72 664.76,243.5 669.3,255.68 673.33,267.32 676.92,278.47 680.14,289.16 683.04,299.43 685.67,309.31 688.05,318.84 690.23,328.03 692.22,336.9 694.05,345.49 695.74,353.81 697.3,361.86 698.74,369.68 700.09,377.27 701.35,384.65 702.52,391.83 703.62,398.81 704.66,405.61 705.63,412.24 706.55,418.71 707.42,425.02 708.25,431.18 709.03,437.2 709.77,443.09 710.48,448.84 711.16,454.48 711.81,459.99 712.42,465.39 713.02,470.68 713.59,475.86 714.13,480.95 714.66,485.94 715.17,490.83 715.66,495.64 716.13,500.36 716.59,504.99 717.03,509.55 717.46,514.02 717.87,518.43 718.28,522.75 718.67,527.01 719.05,531.2 719.42,535.33 719.78,539.39 720.14,543.38 720.48,547.32 720.82,551.2 721.15,555.03 721.47,558.79 721.78,562.51 722.09,566.17 722.39,569.78 722.69,573.35 722.98,576.86 723.26,580.33 723.54,583.75 723.82,587.13 724.09,590.47 724.35,593.76 724.61,597.02 724.87,600.23 725.12,603.4 725.37,606.54 725.62,609.64 725.86,612.7 726.1,615.73 726.34,618.72 726.57,621.68 726.81,624.61 727.03,627.5 727.26,630.36 727.48,633.2 727.7,636 727.92,638.77 728.14,641.51 728.35,644.22 728.56,646.91 728.77,649.57 728.98,652.2 729.18,654.81 729.39,657.39 729.59,659.94 729.79,662.47 729.99,664.98"/>
<polyline fill="none" stroke="#a4a4de" stroke-width="1" points="610.85,49.2 629.12,74.16 644.2,96.95 656.62,117.91 666.86,137.32 675.37,155.38 682.48,172.28 688.48,188.16 693.59,203.13 697.98,217.29 701.77,230.72 705.07,243.5 707.97,255.68 710.52,267.32 712.79,278.47 714.82,289.16 716.64,299.43 718.28,309.31 719.77,318.84 721.12,328.03 722.36,336.9 723.49,345.49 724.53,353.81 725.49,361.86 726.38,369.68 727.21,377.27 727.98,384.65 728.7,391.83 729.37,398.81 730.01,405.61 730.6,412.24 731.16,418.71 731.7,425.02 732.2,431.18 732.68,437.2 733.13,443.09 733.57,448.84 733.98,454.48 734.38,459.99 734.76,465.39 735.12,470.68 735.47,475.86 735.81,480.95 736.13,485.94 736.45,490.83 736.75,495.64 737.04,500.36 737.33,504.99 737.6,509.55 737.87,514.02 738.13,518.43 738.39,522.75 738.64,527.01 738.88,531.2 739.12,535.33 739.35,539.39 739.57,543.38 739.8,547.32 740.01,551.2 740.23,555.03 740.44,558.79 740.64,562.51 740.84,566.17 741.04,569.78 741.24,573.35 741.43,576.86 741.62,580.33 741.81,583.75 741.99,587.13 742.18,590.47 742.36,593.76 742.54,597.02 742.71,600.23 742.89,603.4 743.06,606.54 743.23,609.64 743.4,612.7 743.57,615.73 743.73,618.72 743.9,621.68 744.06,624.61 744.22,627.5 744.38,630.36 744.54,633.2 744.7,636 744.86,638.77 745.01,641.51 745.17,644.22 745.32,646.91 745.47,649.57 745.63,652.2 745.78,654.81 745.93,657.39 746.08,659.94 746.23,662.47 746.37,664.98"/>
<polyline fill="none" stroke="#3c963c" stroke-width="1" stroke-dasharray="1 1.95" points="354.57,664.98 357.1,658.67 359.69,652.2 362.36,645.57 365.11,638.77 367.93,631.78 370.84,624.61 373.83,617.23 376.92,609.64 380.11,601.82 383.41,593.76 386.82,585.45 390.35,576.86 394.01,567.98 397.81,558.79 401.75,549.27 405.86,539.39 410.14,529.12 414.61,518.43 419.29,507.28 424.19,495.64 429.33,483.46 434.74,470.68"/>
<polyline fill="none" stroke="#3c963c" stroke-width="1" stroke-dasharray="1 1.95" points="415.47,664.98 417.85,658.67 420.28,652.2 422.79,645.57 425.36,638.77 428.02,631.78 430.75,624.61 433.57,617.23 436.47,609.64 439.47,601.82 442.58,593.76 445.79,585.45 449.11,576.86 452.56,567.98 456.15,558.79 459.87,549.27 463.75,539.39 467.79,529.12 472.02,518.43 476.44,507.28 481.07,495.64 485.94,483.46 491.07,470.68"/>
<polyline fill="none" stroke="#3c963c" stroke-width="1" stroke-dasharray="1 1.95" points="481.02,664.98 483.21,658.67 485.47,652.2 487.79,645.57 490.18,638.77 492.64,631.78 495.18,624.61 497.8,617.23 500.5,609.64 503.29,601.82 506.17,593.76 509.16,585.45 512.26,576.86 515.48,567.98 518.82,558.79 522.3,549.27 525.92,539.39 529.7,529.12 533.65,518.43 537.79,507.28 542.13,495.64 546.69,483.46 551.5,470.68"/>
<polyline fill="none" stroke="#3c963c" stroke-width="1" stroke-dasharray="1 1.95" points="521.66,664.98 523.75,658.67 525.89,652.2 528.09,645.57 530.36,638.77 532.7,631.78 535.11,624.61 537.6,617.23 540.17,609.64 542.83,601.82 545.58,593.76 548.43,585.45 551.38,576.86 554.45,567.98 557.63,558.79 560.95,549.27 564.41,539.39 568.02,529.12 571.8,518.43 575.76,507.28 579.91,495.64 584.28,483.46 588.89,470.68"/>
<polyline fill="none" stroke="#3c963c" stroke-width="1" stroke-dasharray="1 1.95" points="551.58,664.98 553.58,658.67 555.64,652.2 557.75,645.57 559.93,638.77 562.18,631.78 564.49,624.61 566.89,617.23 569.36,609.64 571.91,601.82 574.56,593.76 577.3,585.45 580.15,576.86 583.1,567.98 586.17,558.79 589.37,549.27 592.71,539.39 596.19,529.12 599.84,518.43 603.66,507.28 607.68,495.64 611.9,483.46 616.36,470.68"/>
<polyline fill="none" stroke="#3c963c" stroke-width="1" stroke-dasharray="1 1.95" points="575.41,664.98 577.34,658.67 579.33,652.2 581.37,645.57 583.48,638.77 585.65,631.78 587.89,624.61 590.21,617.23 592.6,609.64 595.07,601.82 597.64,593.76 600.29,585.45 603.05,576.86 605.91,567.98 608.89,558.79 612,549.27 615.23,539.39 618.62,529.12 622.16,518.43 625.87,507.28 629.77,495.64 633.88,483.46 638.21,470.68"/>
<polyline fill="none" stroke="#3c963c" stroke-width="1" stroke-dasharray="1 1.95" points="604.13,664.98 605.98,658.67 607.88,652.2 609.84,645.57 611.86,638.77 613.94,631.78 616.09,624.61 618.3,617.23 620.6,609.64 622.97,601.82 625.44,593.76 627.99,585.45 630.64,576.86 633.39,567.98 636.26,558.79 639.24,549.27 642.36,539.39 645.62,529.12 649.03,518.43 652.61,507.28 656.37,495.64 660.34,483.46 664.52,470.68"/>
<polyline fill="none" stroke="#3c963c" stroke-width="1" stroke-dasharray="1 1.95" points="627.4,664.98 629.18,658.67 631.01,652.2 632.89,645.57 634.84,638.77 636.85,631.78 638.92,624.61 641.06,617.23 643.27,609.64 645.57,601.82 647.94,593.76 650.41,585.45 652.97,576.86 655.63,567.98 658.41,558.79 661.3,549.27 664.31,539.39 667.47,529.12 670.78,518.43 674.25,507.28 677.9,495.64 681.74,483.46 685.81,470.68"/>
<polyline fill="none" stroke="#3c963c" stroke-width="1" stroke-dasharray="1 1.95" points="652.92,664.98 654.62,658.67 656.37,652.2 658.18,645.57 660.04,638.77 661.97,631.78 663.96,624.61 666.01,617.23 668.14,609.64 670.34,601.82 672.62,593.76 674.99,585.45 677.46,576.86 680.02,567.98 682.69,558.79 685.47,549.27 688.38,539.39 691.42,529.12 694.61,518.43 697.96,507.28 701.48,495.64 705.2,483.46 709.13,470.68"/>
<polyline fill="none" stroke="#3c963c" stroke-width="1" stroke-dasharray="1 1.95" points="674.15,664.98 675.79,658.67 677.48,652.2 679.22,645.57 681.02,638.77 682.87,631.78 684.79,624.61 686.77,617.23 688.82,609.64 690.95,601.82 693.15,593.76 695.44,585.45 697.82,576.86 700.3,567.98 702.88,558.79 705.57,549.27 708.39,539.39 711.34,529.12 714.43,518.43 717.68,507.28 721.09,495.64 724.7,483.46 728.51,470.68"/>
<polyline fill="none" stroke="#3c963c" stroke-width="1" stroke-dasharray="1 1.95" points="700.59,664.98 702.15,658.67 703.75,652.2 705.41,645.57 707.12,638.77 708.89,631.78 710.71,624.61 712.6,617.23 714.56,609.64 716.59,601.82 718.7,593.76 720.89,585.45 723.16,576.86 725.53,567.98 728,558.79 730.59,549.27 733.28,539.39 736.11,529.12 739.08,518.43 742.2,507.28 745.48,495.64 748.95,483.46 752.62,470.68"/>
<polyline fill="none" stroke="#3c963c" stroke-width="1" stroke-dasharray="1 1.95" points="722.53,664.98 724.02,658.67 725.55,652.2 727.14,645.57 728.78,638.77 730.47,631.78 732.22,624.61 734.03,617.23 735.91,609.64 737.86,601.82 739.89,593.76 741.99,585.45 744.18,576.86 746.46,567.98 748.84,558.79 751.33,549.27 753.93,539.39 756.65,529.12 759.52,518.43 762.53,507.28 765.7,495.64 769.05,483.46 772.6,470.68"/>
<line x1="471.36" y1="664.98" x2="917.49" y2="49.2" stroke="#1a1a1a" stroke-width="1" stroke-dasharray="7.5 3.5"/>
<line x1="329.58" y1="664.98" x2="775.71" y2="49.2" stroke="#1a1a1a" stroke-width="1" stroke-dasharray="7.5 3.5"/>
</g>
<text x="432.40" y="468.00" font-family="Liberation Sans, sans-serif" font-size="8.80" fill="#4a9a4a" textLength="4.60" lengthAdjust="spacingAndGlyphs">1</text>
<text x="488.64" y="468.00" font-family="Liberation Sans, sans-serif" font-size="8.80" fill="#4a9a4a" textLength="4.65" lengthAdjust="spacingAndGlyphs">2</text>
<text x="549.09" y="468.00" font-family="Liberation Sans, sans-serif" font-size="8.80" fill="#4a9a4a" textLength="4.83" lengthAdjust="spacingAndGlyphs">4</text>
<text x="586.31" y="468.00" font-family="Liberation Sans, sans-serif" font-size="8.80" fill="#4a9a4a" textLength="5.14" lengthAdjust="spacingAndGlyphs">6</text>
<text x="613.84" y="468.00" font-family="Liberation Sans, sans-serif" font-size="8.80" fill="#4a9a4a" textLength="5.03" lengthAdjust="spacingAndGlyphs">8</text>
<text x="633.19" y="468.00" font-family="Liberation Sans, sans-serif" font-size="8.80" fill="#4a9a4a" textLength="10.07" lengthAdjust="spacingAndGlyphs">10</text>
<text x="659.43" y="468.00" font-family="Liberation Sans, sans-serif" font-size="8.80" fill="#4a9a4a" textLength="10.14" lengthAdjust="spacingAndGlyphs">13</text>
<text x="680.70" y="468.00" font-family="Liberation Sans, sans-serif" font-size="8.80" fill="#4a9a4a" textLength="10.30" lengthAdjust="spacingAndGlyphs">16</text>
<text x="704.03" y="468.00" font-family="Liberation Sans, sans-serif" font-size="8.80" fill="#4a9a4a" textLength="10.15" lengthAdjust="spacingAndGlyphs">20</text>
<text x="723.41" y="468.00" font-family="Liberation Sans, sans-serif" font-size="8.80" fill="#4a9a4a" textLength="10.15" lengthAdjust="spacingAndGlyphs">24</text>
<text x="747.59" y="468.00" font-family="Liberation Sans, sans-serif" font-size="8.80" fill="#4a9a4a" textLength="10.14" lengthAdjust="spacingAndGlyphs">30</text>
<text x="767.51" y="468.00" font-family="Liberation Sans, sans-serif" font-size="8.80" fill="#4a9a4a" textLength="10.35" lengthAdjust="spacingAndGlyphs">36</text>
<g clip-path="url(#ax)" fill="none" stroke-linejoin="round" stroke-linecap="butt">
<polyline points="501.7,49.4 470.9,105.8 429.6,155 331.5,230.4 318.5,261 334.3,289 352.2,314.5 367.8,336.7 382.2,357.6 396.4,377.2 406,394 412,412 416.9,430 420.3,443 423.7,456.5 431.8,471.9 449,499.4 456,515 462,527.5 477.6,547.7 482,558.9 482.6,567.3 481.4,578.1 479.6,586.6 477.8,593.2 470,601 439.3,608.8 429.6,616 431.8,625 437.5,633 439.8,640.9 450,651.8" stroke="#0000ff" stroke-width="1.4"/>
<polyline points="292.6,49.4 259.8,106.9 264.3,155 283.1,195.3 279.1,230.4 287.7,260.8 289.2,289 298.2,314 317.2,336.8 336.3,357.6 338.3,376.8 333.3,395 324.7,411.8 306.5,428 283.9,442.6 254.1,457 242.5,470.3 242.9,483 247,495.3 258.7,506.8 329.6,518.2 365.3,527.5 407,539 431.8,547.9 450.5,558.5 453.4,567.7 451.1,576.5 438.6,585.2 418.2,593.4 393.2,601.3 326.1,609.3 338.6,617.2 361.4,624.7 384.1,631.9 397.7,639.1 426.1,651.8" stroke="#009600" stroke-width="2.9"/>
<polyline points="503.7,49.4 472.1,106.9 430.5,155 332.3,230.4 319.2,261 334.8,289 396.5,374.3 410.5,395.3 419.5,412.4 426.5,428.4 437.5,456.5 446.7,470.3 459.3,483.4 479.2,506.8 485.5,528.4 495.5,547.7 496.6,558.5 495.5,576.5 502.3,592 500,600 469.3,609.3 452.3,617 451.1,624.7 453.4,632 455.2,644.3 461.4,651.8" stroke="#ff0000" stroke-width="3.1"/>
</g>
<text x="414.75" y="661.70" font-family="Liberation Sans, sans-serif" font-size="11.60" font-weight="bold" fill="#009600" textLength="22.09" lengthAdjust="spacingAndGlyphs">18F</text>
<text x="450.83" y="661.70" font-family="Liberation Sans, sans-serif" font-size="11.60" font-weight="bold" fill="#ff0000" textLength="22.10" lengthAdjust="spacingAndGlyphs">27F</text>
<g stroke="#000" stroke-width="1" fill="none">
<rect x="188.5" y="49.5" width="638" height="616"/>
<line x1="183.5" x2="188.5" y1="49.5" y2="49.5"/><line x1="826.5" x2="831.5" y1="49.5" y2="49.5"/>
<line x1="183.5" x2="188.5" y1="155.5" y2="155.5"/><line x1="826.5" x2="831.5" y1="155.5" y2="155.5"/>
<line x1="183.5" x2="188.5" y1="230.5" y2="230.5"/><line x1="826.5" x2="831.5" y1="230.5" y2="230.5"/>
<line x1="183.5" x2="188.5" y1="289.5" y2="289.5"/><line x1="826.5" x2="831.5" y1="289.5" y2="289.5"/>
<line x1="183.5" x2="188.5" y1="336.5" y2="336.5"/><line x1="826.5" x2="831.5" y1="336.5" y2="336.5"/>
<line x1="183.5" x2="188.5" y1="377.5" y2="377.5"/><line x1="826.5" x2="831.5" y1="377.5" y2="377.5"/>
<line x1="183.5" x2="188.5" y1="412.5" y2="412.5"/><line x1="826.5" x2="831.5" y1="412.5" y2="412.5"/>
<line x1="183.5" x2="188.5" y1="443.5" y2="443.5"/><line x1="826.5" x2="831.5" y1="443.5" y2="443.5"/>
<line x1="183.5" x2="188.5" y1="470.5" y2="470.5"/><line x1="826.5" x2="831.5" y1="470.5" y2="470.5"/>
<line x1="183.5" x2="188.5" y1="495.5" y2="495.5"/><line x1="826.5" x2="831.5" y1="495.5" y2="495.5"/>
<line x1="183.5" x2="188.5" y1="518.5" y2="518.5"/><line x1="826.5" x2="831.5" y1="518.5" y2="518.5"/>
<line x1="183.5" x2="188.5" y1="539.5" y2="539.5"/><line x1="826.5" x2="831.5" y1="539.5" y2="539.5"/>
<line x1="183.5" x2="188.5" y1="558.5" y2="558.5"/><line x1="826.5" x2="831.5" y1="558.5" y2="558.5"/>
<line x1="183.5" x2="188.5" y1="576.5" y2="576.5"/><line x1="826.5" x2="831.5" y1="576.5" y2="576.5"/>
<line x1="183.5" x2="188.5" y1="593.5" y2="593.5"/><line x1="826.5" x2="831.5" y1="593.5" y2="593.5"/>
<line x1="183.5" x2="188.5" y1="609.5" y2="609.5"/><line x1="826.5" x2="831.5" y1="609.5" y2="609.5"/>
<line x1="183.5" x2="188.5" y1="624.5" y2="624.5"/><line x1="826.5" x2="831.5" y1="624.5" y2="624.5"/>
<line x1="183.5" x2="188.5" y1="638.5" y2="638.5"/><line x1="826.5" x2="831.5" y1="638.5" y2="638.5"/>
<line x1="183.5" x2="188.5" y1="652.5" y2="652.5"/><line x1="826.5" x2="831.5" y1="652.5" y2="652.5"/>
<line x1="183.5" x2="188.5" y1="664.5" y2="664.5"/><line x1="826.5" x2="831.5" y1="664.5" y2="664.5"/>
<line x1="188.5" x2="188.5" y1="665.5" y2="670.5"/><line x1="188.5" x2="188.5" y1="44.5" y2="49.5"/>
<line x1="259.5" x2="259.5" y1="665.5" y2="670.5"/><line x1="259.5" x2="259.5" y1="44.5" y2="49.5"/>
<line x1="330.5" x2="330.5" y1="665.5" y2="670.5"/><line x1="330.5" x2="330.5" y1="44.5" y2="49.5"/>
<line x1="401.5" x2="401.5" y1="665.5" y2="670.5"/><line x1="401.5" x2="401.5" y1="44.5" y2="49.5"/>
<line x1="472.5" x2="472.5" y1="665.5" y2="670.5"/><line x1="472.5" x2="472.5" y1="44.5" y2="49.5"/>
<line x1="542.5" x2="542.5" y1="665.5" y2="670.5"/><line x1="542.5" x2="542.5" y1="44.5" y2="49.5"/>
<line x1="613.5" x2="613.5" y1="665.5" y2="670.5"/><line x1="613.5" x2="613.5" y1="44.5" y2="49.5"/>
<line x1="684.5" x2="684.5" y1="665.5" y2="670.5"/><line x1="684.5" x2="684.5" y1="44.5" y2="49.5"/>
<line x1="755.5" x2="755.5" y1="665.5" y2="670.5"/><line x1="755.5" x2="755.5" y1="44.5" y2="49.5"/>
<line x1="826.5" x2="826.5" y1="665.5" y2="670.5"/><line x1="826.5" x2="826.5" y1="44.5" y2="49.5"/>
</g>
<text x="151.68" y="54.20" font-family="Liberation Sans, sans-serif" font-size="14.40" textLength="25.70" lengthAdjust="spacingAndGlyphs">100</text>
<text x="151.69" y="235.72" font-family="Liberation Sans, sans-serif" font-size="14.40" textLength="25.69" lengthAdjust="spacingAndGlyphs">200</text>
<text x="151.93" y="341.90" font-family="Liberation Sans, sans-serif" font-size="14.40" textLength="25.45" lengthAdjust="spacingAndGlyphs">300</text>
<text x="151.78" y="417.24" font-family="Liberation Sans, sans-serif" font-size="14.40" textLength="25.60" lengthAdjust="spacingAndGlyphs">400</text>
<text x="151.91" y="475.68" font-family="Liberation Sans, sans-serif" font-size="14.40" textLength="25.46" lengthAdjust="spacingAndGlyphs">500</text>
<text x="151.51" y="523.43" font-family="Liberation Sans, sans-serif" font-size="14.40" textLength="25.88" lengthAdjust="spacingAndGlyphs">600</text>
<text x="151.80" y="563.79" font-family="Liberation Sans, sans-serif" font-size="14.40" textLength="25.57" lengthAdjust="spacingAndGlyphs">700</text>
<text x="151.60" y="598.76" font-family="Liberation Sans, sans-serif" font-size="14.40" textLength="25.79" lengthAdjust="spacingAndGlyphs">800</text>
<text x="151.47" y="629.61" font-family="Liberation Sans, sans-serif" font-size="14.40" textLength="25.91" lengthAdjust="spacingAndGlyphs">900</text>
<text x="142.92" y="657.20" font-family="Liberation Sans, sans-serif" font-size="14.40" textLength="34.46" lengthAdjust="spacingAndGlyphs">1000</text>
<text x="174.59" y="685.30" font-family="Liberation Sans, sans-serif" font-size="14.40" textLength="28.20" lengthAdjust="spacingAndGlyphs">−40</text>
<text x="245.59" y="685.30" font-family="Liberation Sans, sans-serif" font-size="14.40" textLength="28.20" lengthAdjust="spacingAndGlyphs">−30</text>
<text x="316.59" y="685.30" font-family="Liberation Sans, sans-serif" font-size="14.40" textLength="28.20" lengthAdjust="spacingAndGlyphs">−20</text>
<text x="387.52" y="685.30" font-family="Liberation Sans, sans-serif" font-size="14.40" textLength="28.33" lengthAdjust="spacingAndGlyphs">−10</text>
<text x="468.48" y="685.30" font-family="Liberation Sans, sans-serif" font-size="14.40" textLength="8.04" lengthAdjust="spacingAndGlyphs">0</text>
<text x="534.05" y="685.30" font-family="Liberation Sans, sans-serif" font-size="14.40" textLength="16.93" lengthAdjust="spacingAndGlyphs">10</text>
<text x="605.00" y="685.30" font-family="Liberation Sans, sans-serif" font-size="14.40" textLength="16.92" lengthAdjust="spacingAndGlyphs">20</text>
<text x="676.24" y="685.30" font-family="Liberation Sans, sans-serif" font-size="14.40" textLength="16.68" lengthAdjust="spacingAndGlyphs">30</text>
<text x="747.08" y="685.30" font-family="Liberation Sans, sans-serif" font-size="14.40" textLength="16.84" lengthAdjust="spacingAndGlyphs">40</text>
<text x="818.22" y="685.30" font-family="Liberation Sans, sans-serif" font-size="14.40" textLength="16.69" lengthAdjust="spacingAndGlyphs">50</text>
<text x="435.35" y="706.00" font-family="Liberation Sans, sans-serif" font-size="16.20" textLength="143.55" lengthAdjust="spacingAndGlyphs">Temperature (°C)</text>
<text transform="translate(134.00,357.50) rotate(-90)" x="-59.57" y="0" font-family="Liberation Sans, sans-serif" font-size="16.20" textLength="118.98" lengthAdjust="spacingAndGlyphs">Pressure (hPa)</text>
<text x="230.91" y="39.90" font-family="Liberation Sans, sans-serif" font-size="14.40" font-weight="bold" textLength="553.20" lengthAdjust="spacingAndGlyphs">HRRR Sounding at KDKB Init: 06z Mar 02 [F001] valid 07z Mar 02 2026</text>
<text x="889.60" y="35.60" font-family="Liberation Sans, sans-serif" font-size="15.60" font-weight="bold" fill="#7a7a7a" textLength="194.20" lengthAdjust="spacingAndGlyphs">TROPICALTIDBITS.COM</text>
<g stroke="#000" stroke-width="1.05" fill="#000" stroke-linejoin="miter">
<path d="M859.02,52.56L835.38,44.44 M844.24,47.49L844.53,37.01" fill="none"/>
<polygon points="835.38,44.44 841.58,36 841.29,46.47" stroke-width="0.8"/>
<path d="M857.93,113.35L836.47,100.52 M844.52,105.33L846.97,95.15 M847.2,106.94L849.65,96.75 M849.88,108.54L851.11,103.45" fill="none"/>
<polygon points="836.47,100.52 844.29,93.54 841.84,103.73" stroke-width="0.8"/>
<path d="M858.54,159.95L835.86,149.42 M844.37,153.37L845.74,142.98 M847.2,154.68L848.58,144.3 M850.03,156L851.41,145.61 M852.87,157.31L854.25,146.93" fill="none"/>
<polygon points="835.86,149.42 842.91,141.67 841.53,152.05" stroke-width="0.8"/>
<path d="M858.36,200.68L836.04,189.42 M844.41,193.64L846.12,183.31 M847.2,195.05L848.91,184.72 M849.99,196.46L851.7,186.12 M852.78,197.87L853.64,192.7" fill="none"/>
<polygon points="836.04,189.42 843.33,181.9 841.62,192.24" stroke-width="0.8"/>
<path d="M858.24,235.89L836.16,224.15 M844.44,228.55L846.37,218.26 M847.2,230.02L849.13,219.72 M849.96,231.49L851.89,221.19 M852.72,232.95L853.69,227.81" fill="none"/>
<polygon points="836.16,224.15 843.62,216.79 841.68,227.09" stroke-width="0.8"/>
<path d="M858.96,265.1L835.44,256.63 M844.26,259.81L844.71,249.34 M847.2,260.87L847.65,250.4 M850.14,261.92L850.36,256.69" fill="none"/>
<polygon points="835.44,256.63 841.77,248.28 841.32,258.75" stroke-width="0.8"/>
<path d="M859.67,289.37L834.73,287.55 M844.08,288.23L841.7,278.03 M847.2,288.46L844.81,278.26 M850.32,288.69L849.12,283.59" fill="none"/>
<polygon points="834.73,287.55 838.58,277.8 840.97,288" stroke-width="0.8"/>
<path d="M859.51,315.6L834.89,311.24 M844.12,312.87L842.79,302.48 M847.2,313.42L845.87,303.03 M850.28,313.96L849.61,308.77" fill="none"/>
<polygon points="834.89,311.24 839.71,301.94 841.05,312.33" stroke-width="0.8"/>
<path d="M859.56,338.06L834.84,334.34 M844.11,335.74L842.51,325.39 M847.2,336.2L845.6,325.85 M850.29,336.67L849.49,331.49" fill="none"/>
<polygon points="834.84,334.34 839.42,324.92 841.02,335.27" stroke-width="0.8"/>
<path d="M859.6,358.78L834.8,355.55 M844.1,356.76L842.29,346.44 M847.2,357.17L845.39,346.85 M850.3,357.57L849.39,352.41" fill="none"/>
<polygon points="834.8,355.55 839.19,346.04 841,356.36" stroke-width="0.8"/>
<path d="M859.51,378.73L834.89,374.42 M844.12,376.03L842.77,365.65 M847.2,376.57L845.84,366.18 M850.28,377.11L849.6,371.92" fill="none"/>
<polygon points="834.89,374.42 839.69,365.11 841.04,375.5" stroke-width="0.8"/>
<path d="M859.47,397.03L834.93,392.25 M844.13,394.04L842.98,383.63 M847.2,394.64L846.05,384.23" fill="none"/>
<polygon points="834.93,392.25 839.91,383.03 841.07,393.44" stroke-width="0.8"/>
<path d="M859.64,412.81L834.76,410.28 M844.09,411.23L841.99,400.96 M847.2,411.54L846.15,406.41" fill="none"/>
<polygon points="834.76,410.28 838.88,400.65 840.98,410.91" stroke-width="0.8"/>
<path d="M859.52,444.49L834.88,440.28" fill="none"/>
<polygon points="834.88,440.28 839.64,430.95 841.04,441.34" stroke-width="0.8"/>
<path d="M858.82,474.58L835.58,465.38 M835.58,465.38L836.35,454.93 M838.48,466.53L839.26,456.08 M841.39,467.68L842.16,457.23 M844.29,468.83L845.07,458.38" fill="none"/>
<path d="M858.58,500.1L835.82,489.78 M835.82,489.78L837.1,479.38 M838.66,491.07L839.94,480.67 M841.51,492.36L842.79,481.96 M844.35,493.65L845,488.45" fill="none"/>
<path d="M859.32,520.79L835.08,514.66 M835.08,514.66L834.51,504.2 M838.11,515.42L837.54,504.96 M841.14,516.19L840.57,505.73" fill="none"/>
<path d="M859.58,540.41L834.82,536.96 M834.82,536.96L833.11,526.62 M837.91,537.39L836.2,527.06 M841.01,537.82L839.3,527.49 M844.1,538.26L843.25,533.09" fill="none"/>
<path d="M859.52,560.2L834.88,555.98 M834.88,555.98L833.49,545.6 M837.96,556.51L836.57,546.13 M841.04,557.04L839.65,546.65" fill="none"/>
<path d="M857.59,583.11L836.81,569.22 M836.81,569.22L839.77,559.17 M839.41,570.95L842.36,560.9 M842,572.69L843.48,567.66" fill="none"/>
<path d="M853.43,603.9L840.97,582.23 M840.97,582.23L848.08,574.53 M842.53,584.94L849.64,577.24" fill="none"/>
<path d="M838.17,622.44L856.23,639.72 M856.23,639.72L851.58,649.11 M853.97,637.56L851.65,642.26" fill="none"/>
<path d="M834.87,649.45L859.53,653.55 M859.53,653.55L860.98,663.92" fill="none"/>
</g>
<circle cx="847.1" cy="609.64" r="3.7" fill="none" stroke="#000" stroke-width="1.2"/>
<rect x="37.2" y="49.5" width="0.9" height="1.8" fill="#808080" stroke="#6e6e6e" stroke-width="0.6"/>
<rect x="35" y="103.54" width="3.1" height="6.2" fill="#808080" stroke="#6e6e6e" stroke-width="0.6"/>
<rect x="35.3" y="151.28" width="2.8" height="6.2" fill="#808080" stroke="#6e6e6e" stroke-width="0.6"/>
<rect x="38.1" y="191.65" width="0.7" height="6.2" fill="#f7de1e" stroke="#e3cc1b" stroke-width="0.6"/>
<rect x="38.1" y="226.62" width="4.5" height="6.2" fill="#f7de1e" stroke="#e3cc1b" stroke-width="0.6"/>
<rect x="38.1" y="257.47" width="3.9" height="6.2" fill="#f7de1e" stroke="#e3cc1b" stroke-width="0.6"/>
<rect x="38.1" y="285.06" width="2.8" height="6.2" fill="#f7de1e" stroke="#e3cc1b" stroke-width="0.6"/>
<rect x="38.1" y="310.02" width="0.7" height="6.2" fill="#f7de1e" stroke="#e3cc1b" stroke-width="0.6"/>
<rect x="38.1" y="332.8" width="0.7" height="6.2" fill="#f7de1e" stroke="#e3cc1b" stroke-width="0.6"/>
<rect x="38.1" y="353.77" width="4.5" height="6.2" fill="#f7de1e" stroke="#e3cc1b" stroke-width="0.6"/>
<rect x="38.1" y="373.17" width="9.9" height="6.2" fill="#fac02a" stroke="#e6b026" stroke-width="0.6"/>
<rect x="38.1" y="391.24" width="13.9" height="6.2" fill="#faa831" stroke="#e69a2d" stroke-width="0.6"/>
<rect x="38.1" y="408.14" width="16.8" height="6.2" fill="#faa832" stroke="#e69a2e" stroke-width="0.6"/>
<rect x="38.1" y="424.02" width="17.9" height="6.2" fill="#faa832" stroke="#e69a2e" stroke-width="0.6"/>
<rect x="38.1" y="438.99" width="17.9" height="6.2" fill="#faa832" stroke="#e69a2e" stroke-width="0.6"/>
<rect x="38.1" y="453.15" width="17.9" height="6.2" fill="#faa832" stroke="#e69a2e" stroke-width="0.6"/>
<rect x="38.1" y="466.58" width="14.7" height="6.2" fill="#faa832" stroke="#e69a2e" stroke-width="0.6"/>
<rect x="38.1" y="479.36" width="13.9" height="6.2" fill="#faa831" stroke="#e69a2d" stroke-width="0.6"/>
<rect x="38.1" y="491.54" width="8.5" height="6.2" fill="#f9c827" stroke="#e5b823" stroke-width="0.6"/>
<rect x="38.1" y="503.18" width="2.6" height="6.2" fill="#f7de1e" stroke="#e3cc1b" stroke-width="0.6"/>
<rect x="34.9" y="514.33" width="3.2" height="6.2" fill="#808080" stroke="#6e6e6e" stroke-width="0.6"/>
<rect x="28.2" y="525.02" width="9.9" height="6.2" fill="#808080" stroke="#6e6e6e" stroke-width="0.6"/>
<rect x="23.4" y="535.29" width="14.7" height="6.2" fill="#808080" stroke="#6e6e6e" stroke-width="0.6"/>
<rect x="23.4" y="545.17" width="14.7" height="6.2" fill="#808080" stroke="#6e6e6e" stroke-width="0.6"/>
<rect x="23.4" y="554.69" width="14.7" height="6.2" fill="#808080" stroke="#6e6e6e" stroke-width="0.6"/>
<rect x="23.4" y="563.88" width="14.7" height="6.2" fill="#808080" stroke="#6e6e6e" stroke-width="0.6"/>
<rect x="23.4" y="572.76" width="14.7" height="6.2" fill="#808080" stroke="#6e6e6e" stroke-width="0.6"/>
<rect x="23.4" y="581.35" width="14.7" height="6.2" fill="#808080" stroke="#6e6e6e" stroke-width="0.6"/>
<rect x="28.2" y="589.66" width="9.9" height="6.2" fill="#808080" stroke="#6e6e6e" stroke-width="0.6"/>
<rect x="32.2" y="597.72" width="5.9" height="6.2" fill="#808080" stroke="#6e6e6e" stroke-width="0.6"/>
<rect x="34.9" y="605.54" width="3.2" height="6.2" fill="#808080" stroke="#6e6e6e" stroke-width="0.6"/>
<rect x="34.9" y="613.13" width="3.2" height="6.2" fill="#808080" stroke="#6e6e6e" stroke-width="0.6"/>
<rect x="34.9" y="620.51" width="3.2" height="6.2" fill="#808080" stroke="#6e6e6e" stroke-width="0.6"/>
<rect x="34" y="627.68" width="4.1" height="6.2" fill="#808080" stroke="#6e6e6e" stroke-width="0.6"/>
<rect x="34" y="634.67" width="4.1" height="6.2" fill="#808080" stroke="#6e6e6e" stroke-width="0.6"/>
<rect x="35.5" y="641.47" width="2.6" height="6.2" fill="#808080" stroke="#6e6e6e" stroke-width="0.6"/>
<rect x="36.5" y="648.1" width="1.6" height="6.2" fill="#808080" stroke="#6e6e6e" stroke-width="0.6"/>
<line x1="23.2" x2="98.8" y1="493.3" y2="493.3" stroke="#ff0000" stroke-width="2.8" stroke-dasharray="8 3.1"/>
<line x1="23.2" x2="98.8" y1="527.3" y2="527.3" stroke="#ff0000" stroke-width="2.8" stroke-dasharray="8 3.1"/>
<text x="73.19" y="489.00" font-family="Liberation Sans, sans-serif" font-size="11.60" font-weight="bold" fill="#ff0000" textLength="26.17" lengthAdjust="spacingAndGlyphs">DGZ</text>
<text x="73.19" y="541.00" font-family="Liberation Sans, sans-serif" font-size="11.60" font-weight="bold" fill="#ff0000" textLength="26.17" lengthAdjust="spacingAndGlyphs">DGZ</text>
<g stroke="#000" stroke-width="1">
<line x1="38.5" x2="38.5" y1="665.5" y2="670.5"/>
<line x1="69.5" x2="69.5" y1="665.5" y2="670.5"/>
<line x1="100.5" x2="100.5" y1="665.5" y2="670.5"/>
</g>
<text x="35.68" y="681.60" font-family="Liberation Sans, sans-serif" font-size="10.20" textLength="5.63" lengthAdjust="spacingAndGlyphs">0</text>
<text x="62.82" y="681.60" font-family="Liberation Sans, sans-serif" font-size="10.20" textLength="13.48" lengthAdjust="spacingAndGlyphs">−1</text>
<text x="93.76" y="681.60" font-family="Liberation Sans, sans-serif" font-size="10.20" textLength="13.56" lengthAdjust="spacingAndGlyphs">−2</text>
<text x="22.79" y="702.80" font-family="Liberation Sans, sans-serif" font-size="14.40" textLength="93.42" lengthAdjust="spacingAndGlyphs">Omega (Pa/s)</text>
<rect x="42.5" y="63.5" width="128" height="96.5" rx="3" fill="#fff" fill-opacity="0.8" stroke="#d0d0d0" stroke-width="1"/>
<line x1="46.6" x2="70.4" y1="72.4" y2="72.4" stroke="#3c963c" stroke-width="1.1" stroke-dasharray="1.1 1.84"/>
<text x="77.84" y="76.00" font-family="Liberation Sans, sans-serif" font-size="11.60" fill="#111" textLength="80.37" lengthAdjust="spacingAndGlyphs">Sat. Mix. Ratio</text>
<line x1="46.6" x2="70.4" y1="87.4" y2="87.4" stroke="#dc9a9a" stroke-width="1"/>
<text x="77.37" y="91.20" font-family="Liberation Sans, sans-serif" font-size="11.60" fill="#111" textLength="71.59" lengthAdjust="spacingAndGlyphs">Dry Adiabats</text>
<line x1="46.6" x2="70.4" y1="103.4" y2="103.4" stroke="#a4a4de" stroke-width="1"/>
<text x="77.39" y="106.80" font-family="Liberation Sans, sans-serif" font-size="11.60" fill="#111" textLength="87.94" lengthAdjust="spacingAndGlyphs">Pseudoadiabats</text>
<line x1="46.6" x2="70.4" y1="119.4" y2="119.4" stroke="#0000ff" stroke-width="1.4"/>
<text x="78.35" y="121.90" font-family="Liberation Sans, sans-serif" font-size="11.60" fill="#111" textLength="45.47" lengthAdjust="spacingAndGlyphs">Wetbulb</text>
<line x1="46.6" x2="70.4" y1="134.4" y2="134.4" stroke="#009600" stroke-width="2.9"/>
<text x="77.36" y="137.80" font-family="Liberation Sans, sans-serif" font-size="11.60" fill="#111" textLength="52.65" lengthAdjust="spacingAndGlyphs">Dewpoint</text>
<line x1="46.6" x2="70.4" y1="150.4" y2="150.4" stroke="#ff0000" stroke-width="2.9"/>
<text x="78.12" y="153.60" font-family="Liberation Sans, sans-serif" font-size="11.60" fill="#111" textLength="71.02" lengthAdjust="spacingAndGlyphs">Temperature</text>
<g clip-path="url(#hodo)">
<ellipse cx="918.5" cy="120.5" rx="21.07" ry="18.45" fill="none" stroke="#808080" stroke-width="0.8" stroke-dasharray="0.8 1.25"/>
<ellipse cx="918.5" cy="120.5" rx="42.14" ry="36.9" fill="none" stroke="#808080" stroke-width="0.8" stroke-dasharray="0.8 1.25"/>
<ellipse cx="918.5" cy="120.5" rx="63.21" ry="55.35" fill="none" stroke="#808080" stroke-width="0.8" stroke-dasharray="0.8 1.25"/>
<ellipse cx="918.5" cy="120.5" rx="84.28" ry="73.8" fill="none" stroke="#808080" stroke-width="0.8" stroke-dasharray="0.8 1.25"/>
<ellipse cx="918.5" cy="120.5" rx="105.35" ry="92.25" fill="none" stroke="#808080" stroke-width="0.8" stroke-dasharray="0.8 1.25"/>
<ellipse cx="918.5" cy="120.5" rx="126.42" ry="110.7" fill="none" stroke="#808080" stroke-width="0.8" stroke-dasharray="0.8 1.25"/>
<ellipse cx="918.5" cy="120.5" rx="147.49" ry="129.15" fill="none" stroke="#808080" stroke-width="0.8" stroke-dasharray="0.8 1.25"/>
<ellipse cx="918.5" cy="120.5" rx="168.56" ry="147.6" fill="none" stroke="#808080" stroke-width="0.8" stroke-dasharray="0.8 1.25"/>
<ellipse cx="918.5" cy="120.5" rx="189.63" ry="166.05" fill="none" stroke="#808080" stroke-width="0.8" stroke-dasharray="0.8 1.25"/>
<ellipse cx="918.5" cy="120.5" rx="210.7" ry="184.5" fill="none" stroke="#808080" stroke-width="0.8" stroke-dasharray="0.8 1.25"/>
<ellipse cx="918.5" cy="120.5" rx="231.77" ry="202.95" fill="none" stroke="#808080" stroke-width="0.8" stroke-dasharray="0.8 1.25"/>
<ellipse cx="918.5" cy="120.5" rx="252.84" ry="221.4" fill="none" stroke="#808080" stroke-width="0.8" stroke-dasharray="0.8 1.25"/>
<line x1="876" x2="1097" y1="120.5" y2="120.5" stroke="#333" stroke-width="1"/>
<line x1="918.5" x2="918.5" y1="49" y2="238" stroke="#333" stroke-width="1"/>
</g>
<text x="890.64" y="136.60" font-family="Liberation Sans, sans-serif" font-size="10.20" fill="#7f7f7f" textLength="11.75" lengthAdjust="spacingAndGlyphs">10</text>
<text x="932.74" y="136.60" font-family="Liberation Sans, sans-serif" font-size="10.20" fill="#7f7f7f" textLength="11.75" lengthAdjust="spacingAndGlyphs">10</text>
<text x="954.18" y="136.60" font-family="Liberation Sans, sans-serif" font-size="10.20" fill="#7f7f7f" textLength="11.98" lengthAdjust="spacingAndGlyphs">20</text>
<text x="975.72" y="136.60" font-family="Liberation Sans, sans-serif" font-size="10.20" fill="#7f7f7f" textLength="11.67" lengthAdjust="spacingAndGlyphs">30</text>
<text x="996.81" y="136.60" font-family="Liberation Sans, sans-serif" font-size="10.20" fill="#7f7f7f" textLength="11.79" lengthAdjust="spacingAndGlyphs">40</text>
<text x="1018.14" y="136.60" font-family="Liberation Sans, sans-serif" font-size="10.20" fill="#7f7f7f" textLength="11.82" lengthAdjust="spacingAndGlyphs">50</text>
<text x="1039.31" y="136.60" font-family="Liberation Sans, sans-serif" font-size="10.20" fill="#7f7f7f" textLength="11.89" lengthAdjust="spacingAndGlyphs">60</text>
<text x="1060.06" y="136.60" font-family="Liberation Sans, sans-serif" font-size="10.20" fill="#7f7f7f" textLength="11.90" lengthAdjust="spacingAndGlyphs">70</text>
<g fill="none" stroke-width="2.1" stroke-linejoin="round">
<polyline points="897.9,116.7 884,113 883.5,109.3 885.6,106 895.8,101.8 905.4,102.8" stroke="#ff0000"/>
<polyline points="912.9,112.5 919.9,121 926.3,130.1 932.7,139.2 938,148.3 940.2,150.4 946,151.5" stroke="#ff0000"/>
<polyline points="951.9,150.4 961.6,145.1 983,130.6" stroke="#ff0000"/>
<polyline points="984.3,132.1 982.4,138.8 983.3,144.1 986,147.8 996,145.4 1017.4,138.8" stroke="#008000"/>
<polyline points="1026.8,135.8 1036.1,133.4 1045.5,131.8 1056.2,131.8 1068.2,140.1" stroke="#bf00bf"/>
<line x1="1072.5" x2="1072.5" y1="129.3" y2="190.2" stroke="#0000ff" stroke-width="2.4"/>
</g>
<ellipse cx="939.8" cy="154.5" rx="8.9" ry="7.5" fill="none" stroke="#000" stroke-width="1.4"/>
<ellipse cx="951.0" cy="102.2" rx="8.45" ry="7.3" fill="none" stroke="#000" stroke-width="1.4"/>
<text x="934.04" y="157.70" font-family="Liberation Sans, sans-serif" font-size="10.00" textLength="10.54" lengthAdjust="spacingAndGlyphs" stroke="#000" stroke-width="0.35">RM</text>
<text x="945.92" y="104.80" font-family="Liberation Sans, sans-serif" font-size="10.00" textLength="9.88" lengthAdjust="spacingAndGlyphs" stroke="#000" stroke-width="0.35">LM</text>
<rect x="905.9" y="103.3" width="6.8" height="9.4" fill="#fff"/>
<text x="906.18" y="111.90" font-family="Liberation Sans, sans-serif" font-size="11.60" textLength="6.13" lengthAdjust="spacingAndGlyphs">1</text>
<rect x="945.1" y="145.9" width="6.8" height="9.4" fill="#fff"/>
<text x="945.18" y="154.50" font-family="Liberation Sans, sans-serif" font-size="11.60" textLength="6.35" lengthAdjust="spacingAndGlyphs">2</text>
<rect x="983.9" y="122" width="6.8" height="9.4" fill="#fff"/>
<text x="984.22" y="130.60" font-family="Liberation Sans, sans-serif" font-size="11.60" textLength="6.17" lengthAdjust="spacingAndGlyphs">3</text>
<rect x="1018.8" y="132.4" width="6.8" height="9.4" fill="#fff"/>
<text x="1018.87" y="141.00" font-family="Liberation Sans, sans-serif" font-size="11.60" textLength="6.66" lengthAdjust="spacingAndGlyphs">6</text>
<rect x="1069" y="138" width="6.8" height="9.4" fill="#fff"/>
<text x="1068.96" y="146.60" font-family="Liberation Sans, sans-serif" font-size="11.60" textLength="6.80" lengthAdjust="spacingAndGlyphs">9</text>
<rect x="876.5" y="49.5" width="220" height="188" fill="none" stroke="#000" stroke-width="1"/>
<text x="882.64" y="250.80" font-family="Liberation Sans, sans-serif" font-size="11.60" textLength="205.81" lengthAdjust="spacingAndGlyphs">Hodograph (wind in kt, height in km)</text>
<text x="877.71" y="286.00" font-family="Liberation Mono, monospace" font-size="13.89" textLength="158.72" lengthAdjust="spacingAndGlyphs" xml:space="preserve">SRH 0-1km:       86</text>
<text x="877.71" y="302.70" font-family="Liberation Mono, monospace" font-size="13.89" textLength="158.76" lengthAdjust="spacingAndGlyphs" xml:space="preserve">SRH 0-3km:       87</text>
<text x="876.41" y="322.00" font-family="Liberation Mono, monospace" font-size="13.89" textLength="200.49" lengthAdjust="spacingAndGlyphs" xml:space="preserve">SBCAPE:           0 J/kg</text>
<text x="875.70" y="339.00" font-family="Liberation Mono, monospace" font-size="13.89" textLength="201.20" lengthAdjust="spacingAndGlyphs" xml:space="preserve">MLCAPE:           0 J/kg</text>
<text x="875.70" y="357.00" font-family="Liberation Mono, monospace" font-size="13.89" textLength="201.20" lengthAdjust="spacingAndGlyphs" xml:space="preserve">MUCAPE:           0 J/kg</text>
<text x="876.41" y="374.00" font-family="Liberation Mono, monospace" font-size="13.89" textLength="200.49" lengthAdjust="spacingAndGlyphs" xml:space="preserve">SBCIN:            0 J/kg</text>
<text x="875.70" y="392.00" font-family="Liberation Mono, monospace" font-size="13.89" textLength="201.20" lengthAdjust="spacingAndGlyphs" xml:space="preserve">MLCIN:            0 J/kg</text>
<text x="875.82" y="409.00" font-family="Liberation Mono, monospace" font-size="13.89" fill="#2a2acc" textLength="201.07" lengthAdjust="spacingAndGlyphs" xml:space="preserve">DCAPE:           13 J/kg</text>
<text x="876.41" y="427.00" font-family="Liberation Mono, monospace" font-size="13.89" fill="#a52a2a" textLength="183.92" lengthAdjust="spacingAndGlyphs" xml:space="preserve">SHR 200-850mb:   82 kt</text>
<text x="875.87" y="444.00" font-family="Liberation Mono, monospace" font-size="13.89" fill="#83561a" textLength="175.78" lengthAdjust="spacingAndGlyphs" xml:space="preserve">RH 300-850mb:    30 %</text>
<text x="876.23" y="462.00" font-family="Liberation Mono, monospace" font-size="13.89" textLength="184.01" lengthAdjust="spacingAndGlyphs" xml:space="preserve">PWAT:          0.22 in</text>
<text x="1043.84" y="286.00" font-family="Liberation Sans, sans-serif" font-size="14.40" font-style="italic" textLength="13.05" lengthAdjust="spacingAndGlyphs">m</text>
<text x="1058.10" y="280.80" font-family="Liberation Sans, sans-serif" font-size="10.20" textLength="5.57" lengthAdjust="spacingAndGlyphs">2</text>
<text x="1065.17" y="286.00" font-family="Liberation Sans, sans-serif" font-size="14.40" font-style="italic" textLength="7.13" lengthAdjust="spacingAndGlyphs">s</text>
<text x="1071.91" y="280.80" font-family="Liberation Sans, sans-serif" font-size="10.20" textLength="13.56" lengthAdjust="spacingAndGlyphs">−2</text>
<text x="1043.84" y="302.70" font-family="Liberation Sans, sans-serif" font-size="14.40" font-style="italic" textLength="13.05" lengthAdjust="spacingAndGlyphs">m</text>
<text x="1058.10" y="297.50" font-family="Liberation Sans, sans-serif" font-size="10.20" textLength="5.57" lengthAdjust="spacingAndGlyphs">2</text>
<text x="1065.17" y="302.70" font-family="Liberation Sans, sans-serif" font-size="14.40" font-style="italic" textLength="7.13" lengthAdjust="spacingAndGlyphs">s</text>
<text x="1071.91" y="297.50" font-family="Liberation Sans, sans-serif" font-size="10.20" textLength="13.56" lengthAdjust="spacingAndGlyphs">−2</text>
<rect x="892.5" y="500.5" width="204" height="165" fill="none" stroke="#000" stroke-width="1"/>
<g stroke="#000" stroke-width="1">
<line x1="892.5" x2="897.5" y1="522.5" y2="522.5"/>
<line x1="892.5" x2="897.5" y1="566.5" y2="566.5"/>
<line x1="892.5" x2="897.5" y1="610.5" y2="610.5"/>
<line x1="892.5" x2="897.5" y1="654.5" y2="654.5"/>
<line x1="956.5" x2="956.5" y1="665" y2="660"/>
<line x1="1023.5" x2="1023.5" y1="665" y2="660"/>
<line x1="1091.5" x2="1091.5" y1="665" y2="660"/>
</g>
<text x="901.72" y="526.20" font-family="Liberation Sans, sans-serif" font-size="11.60" textLength="20.61" lengthAdjust="spacingAndGlyphs">400</text>
<text x="901.37" y="570.30" font-family="Liberation Sans, sans-serif" font-size="11.60" textLength="20.60" lengthAdjust="spacingAndGlyphs">600</text>
<text x="901.46" y="614.40" font-family="Liberation Sans, sans-serif" font-size="11.60" textLength="20.65" lengthAdjust="spacingAndGlyphs">800</text>
<text x="945.56" y="656.20" font-family="Liberation Sans, sans-serif" font-size="11.60" textLength="20.81" lengthAdjust="spacingAndGlyphs">280</text>
<text x="1013.48" y="656.20" font-family="Liberation Sans, sans-serif" font-size="11.60" textLength="20.36" lengthAdjust="spacingAndGlyphs">300</text>
<text x="1081.02" y="656.20" font-family="Liberation Sans, sans-serif" font-size="11.60" textLength="20.49" lengthAdjust="spacingAndGlyphs">320</text>
<text x="904.70" y="678.30" font-family="Liberation Sans, sans-serif" font-size="11.60" textLength="177.49" lengthAdjust="spacingAndGlyphs">Equivalent Pot. Temperature (K)</text>
<text transform="translate(884.80,583.50) rotate(-90)" x="-39.95" y="0" font-family="Liberation Sans, sans-serif" font-size="11.60" textLength="79.79" lengthAdjust="spacingAndGlyphs">Pressure (hPa)</text>
<polyline points="1081.2,500.2 1072.2,511.8 1062.6,521.4 1049.8,531 1042.3,538.5 1038,544.9 1034.8,554.5 1031.6,561 1027.3,567.4 1024.8,571.7 1025.8,577 1025.8,582.4 1023,587.7 1015.6,595.2 1007,602.2 998.4,609.1 986.7,615.5 973.9,617.2 957.8,620.2 948.2,625.1 945,630.5 943.9,636.9 941.8,641.2 940.7,647.6 942.8,653.6" fill="none" stroke="#3399b3" stroke-width="2.8" stroke-linejoin="round"/>
<rect x="0" y="0" width="1133" height="1" fill="#a9a9a9"/><rect x="0" y="0" width="1" height="747" fill="#a9a9a9"/>
<rect x="1" y="1" width="1131" height="1" fill="#6a6a6a"/><rect x="1" y="1" width="1" height="745" fill="#6a6a6a"/>
<rect x="1132" y="1" width="1" height="746" fill="#e3e3e3"/><rect x="1" y="746" width="1132" height="1" fill="#e3e3e3"/>
</svg></div>
</body></html>
